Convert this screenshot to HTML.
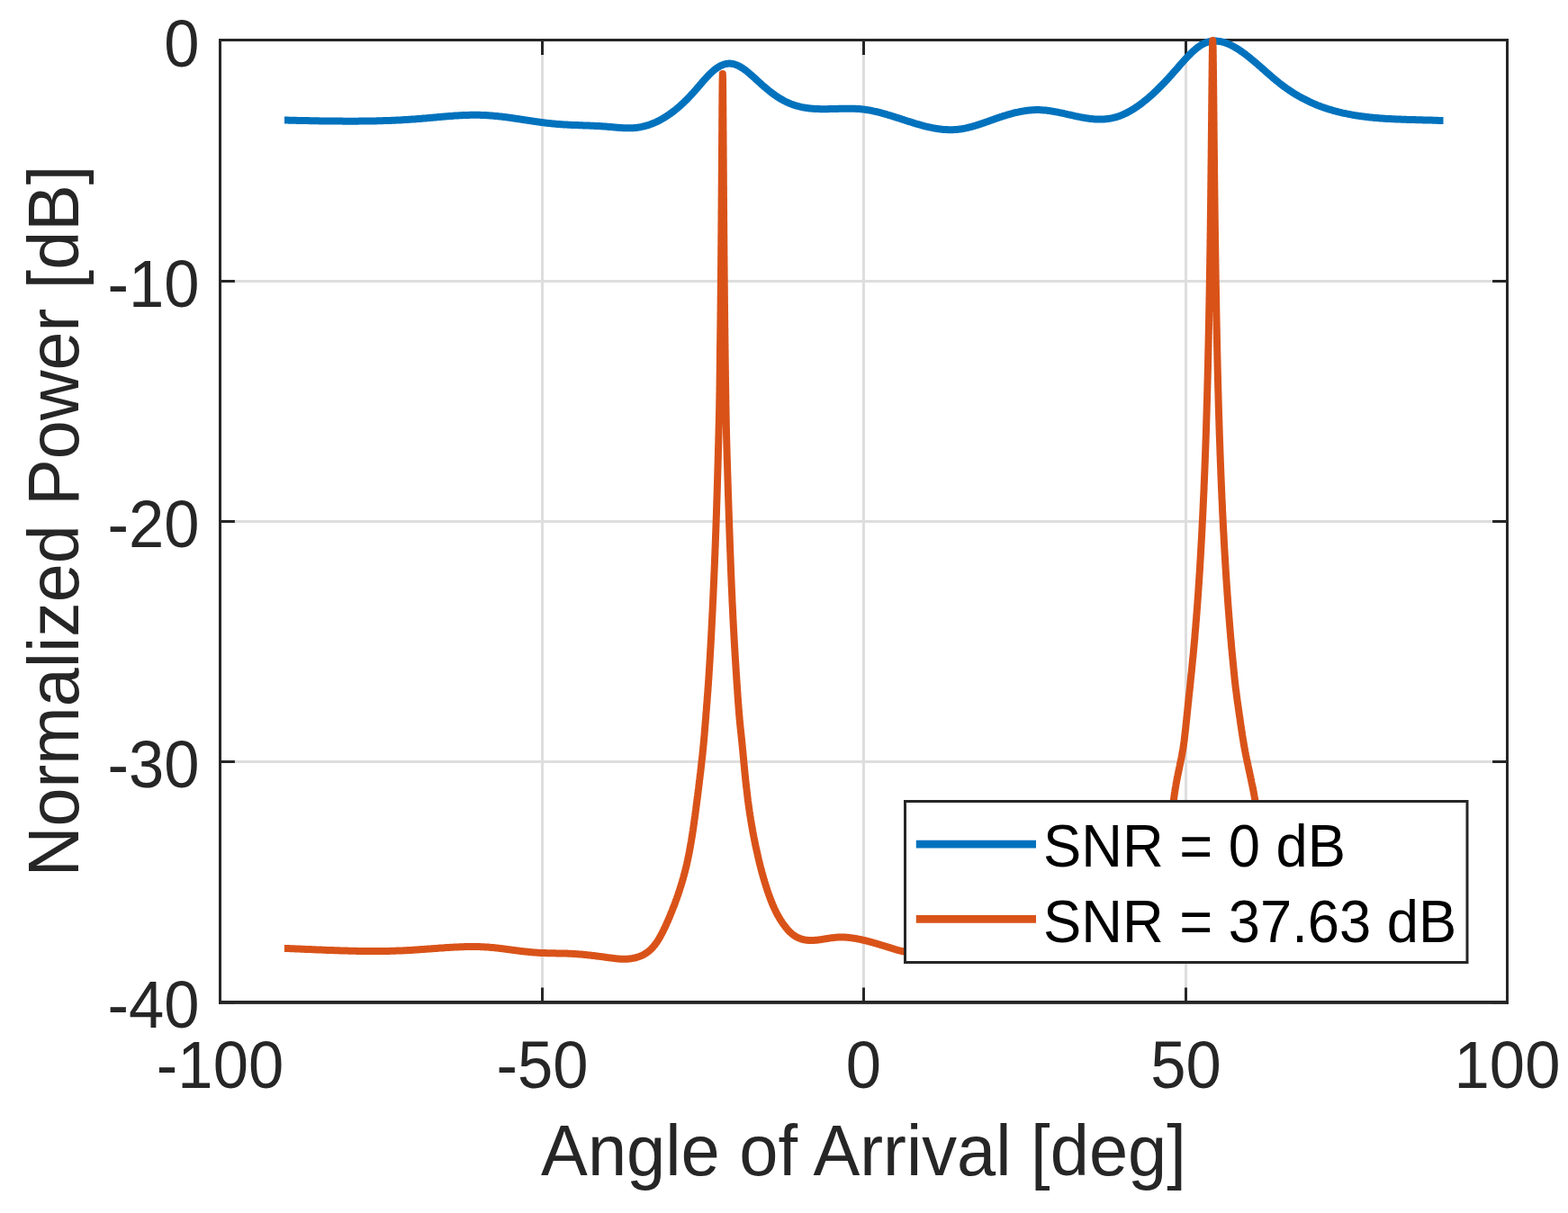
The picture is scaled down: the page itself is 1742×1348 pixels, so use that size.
<!DOCTYPE html>
<html><head><meta charset="utf-8"><title>Normalized Power vs Angle of Arrival</title>
<style>html,body{margin:0;padding:0;background:#fff;overflow:hidden}svg{display:block}</style>
</head><body>
<svg width="1742" height="1348" viewBox="0 0 1742 1348">
<rect width="1742" height="1348" fill="#ffffff"/>
<path d="M602.5 46 V1112 M959.5 46 V1112 M1317.5 46 V1112 M246 312.5 H1673 M246 579.5 H1673 M246 846.5 H1673" stroke="#dedede" stroke-width="3" fill="none"/>
<path d="M244.5 1112 V1097.5 M244.5 46 V60.9 M602.5 1112 V1097.5 M602.5 46 V60.9 M959.5 1112 V1097.5 M959.5 46 V60.9 M1317.5 1112 V1097.5 M1317.5 46 V60.9 M1674.5 1112 V1097.5 M1674.5 46 V60.9 M246 44.5 H260.9 M1673 44.5 H1658.1 M246 312.5 H260.9 M1673 312.5 H1658.1 M246 579.5 H260.9 M1673 579.5 H1658.1 M246 846.5 H260.9 M1673 846.5 H1658.1 M246 1113.9 H260.9 M1673 1113.9 H1658.1" stroke="#262626" stroke-width="3" fill="none"/>
<path d="M243 44.5 H1676 M243 1113.9 H1676" stroke="#262626" stroke-width="3" fill="none"/>
<path d="M243 1113.9 H1676" stroke="#262626" stroke-width="3.8" fill="none"/>
<path d="M244.5 43 V1115.8 M1674.5 43 V1115.8" stroke="#262626" stroke-width="3" fill="none"/>
<path d="M316.0 133.6 L317.0 133.6 L318.0 133.6 L319.0 133.6 L320.0 133.6 L321.0 133.7 L322.0 133.7 L323.0 133.7 L324.0 133.7 L325.0 133.8 L326.0 133.8 L327.0 133.8 L328.0 133.8 L329.0 133.8 L330.0 133.9 L331.0 133.9 L332.0 133.9 L333.0 133.9 L334.0 133.9 L335.0 134.0 L336.0 134.0 L337.0 134.0 L338.0 134.0 L339.0 134.1 L340.0 134.1 L341.0 134.1 L342.0 134.1 L343.0 134.1 L344.0 134.2 L345.0 134.2 L346.0 134.2 L347.0 134.2 L348.0 134.2 L349.0 134.2 L350.0 134.3 L351.0 134.3 L352.0 134.3 L353.0 134.3 L354.0 134.3 L355.0 134.4 L356.0 134.4 L357.0 134.4 L358.0 134.4 L359.0 134.4 L360.0 134.4 L361.0 134.4 L362.0 134.5 L363.0 134.5 L364.0 134.5 L365.0 134.5 L366.0 134.5 L367.0 134.5 L368.0 134.5 L369.0 134.6 L370.0 134.6 L371.0 134.6 L372.0 134.6 L373.0 134.6 L374.0 134.6 L375.0 134.6 L376.0 134.6 L377.0 134.6 L378.0 134.6 L379.0 134.6 L380.0 134.6 L381.0 134.7 L382.0 134.7 L383.0 134.7 L384.0 134.7 L385.0 134.7 L386.0 134.7 L387.0 134.7 L388.0 134.7 L389.0 134.7 L390.0 134.7 L391.0 134.7 L392.0 134.7 L393.0 134.7 L394.0 134.7 L395.0 134.7 L396.0 134.7 L397.0 134.7 L398.0 134.7 L399.0 134.6 L400.0 134.6 L401.0 134.6 L402.0 134.6 L403.0 134.6 L404.0 134.6 L405.0 134.6 L406.0 134.6 L407.0 134.6 L408.0 134.6 L409.0 134.5 L410.0 134.5 L411.0 134.5 L412.0 134.5 L413.0 134.5 L414.0 134.5 L415.0 134.4 L416.0 134.4 L417.0 134.4 L418.0 134.4 L419.0 134.3 L420.0 134.3 L421.0 134.3 L422.0 134.3 L423.0 134.2 L424.0 134.2 L425.0 134.2 L426.0 134.1 L427.0 134.1 L428.0 134.1 L429.0 134.1 L430.0 134.0 L431.0 134.0 L432.0 133.9 L433.0 133.9 L434.0 133.9 L435.0 133.8 L436.0 133.8 L437.0 133.7 L438.0 133.7 L439.0 133.7 L440.0 133.6 L441.0 133.6 L442.0 133.5 L443.0 133.5 L444.0 133.4 L445.0 133.4 L446.0 133.3 L447.0 133.3 L448.0 133.2 L449.0 133.1 L450.0 133.1 L451.0 133.0 L452.0 133.0 L453.0 132.9 L454.0 132.8 L455.0 132.8 L456.0 132.7 L457.0 132.6 L458.0 132.6 L459.0 132.5 L460.0 132.4 L461.0 132.4 L462.0 132.3 L463.0 132.2 L464.0 132.1 L465.0 132.0 L466.0 132.0 L467.0 131.9 L468.0 131.8 L469.0 131.7 L470.0 131.6 L471.0 131.5 L472.0 131.5 L473.0 131.4 L474.0 131.3 L475.0 131.2 L476.0 131.1 L477.0 131.0 L478.0 130.9 L479.0 130.8 L480.0 130.7 L481.0 130.7 L482.0 130.6 L483.0 130.5 L484.0 130.4 L485.0 130.3 L486.0 130.2 L487.0 130.1 L488.0 130.0 L489.0 129.9 L490.0 129.8 L491.0 129.7 L492.0 129.7 L493.0 129.6 L494.0 129.5 L495.0 129.4 L496.0 129.3 L497.0 129.2 L498.0 129.2 L499.0 129.1 L500.0 129.0 L501.0 128.9 L502.0 128.9 L503.0 128.8 L504.0 128.7 L505.0 128.6 L506.0 128.6 L507.0 128.5 L508.0 128.4 L509.0 128.4 L510.0 128.3 L511.0 128.3 L512.0 128.2 L513.0 128.2 L514.0 128.1 L515.0 128.1 L516.0 128.0 L517.0 128.0 L518.0 128.0 L519.0 127.9 L520.0 127.9 L521.0 127.9 L522.0 127.8 L523.0 127.8 L524.0 127.8 L525.0 127.8 L526.0 127.8 L527.0 127.8 L528.0 127.8 L529.0 127.8 L530.0 127.8 L531.0 127.8 L532.0 127.8 L533.0 127.8 L534.0 127.9 L535.0 127.9 L536.0 127.9 L537.0 128.0 L538.0 128.0 L539.0 128.0 L540.0 128.1 L541.0 128.2 L542.0 128.2 L543.0 128.3 L544.0 128.4 L545.0 128.4 L546.0 128.5 L547.0 128.6 L548.0 128.7 L549.0 128.8 L550.0 128.9 L551.0 128.9 L552.0 129.0 L553.0 129.2 L554.0 129.3 L555.0 129.4 L556.0 129.5 L557.0 129.6 L558.0 129.7 L559.0 129.8 L560.0 130.0 L561.0 130.1 L562.0 130.2 L563.0 130.3 L564.0 130.5 L565.0 130.6 L566.0 130.7 L567.0 130.9 L568.0 131.0 L569.0 131.2 L570.0 131.3 L571.0 131.5 L572.0 131.6 L573.0 131.8 L574.0 131.9 L575.0 132.0 L576.0 132.2 L577.0 132.3 L578.0 132.5 L579.0 132.7 L580.0 132.8 L581.0 133.0 L582.0 133.1 L583.0 133.3 L584.0 133.4 L585.0 133.6 L586.0 133.7 L587.0 133.9 L588.0 134.0 L589.0 134.2 L590.0 134.3 L591.0 134.5 L592.0 134.6 L593.0 134.8 L594.0 134.9 L595.0 135.1 L596.0 135.2 L597.0 135.3 L598.0 135.5 L599.0 135.6 L600.0 135.8 L601.0 135.9 L602.0 136.0 L603.0 136.2 L604.0 136.3 L605.0 136.4 L606.0 136.6 L607.0 136.7 L608.0 136.8 L609.0 136.9 L610.0 137.0 L611.0 137.1 L612.0 137.2 L613.0 137.3 L614.0 137.5 L615.0 137.5 L616.0 137.6 L617.0 137.7 L618.0 137.8 L619.0 137.9 L620.0 138.0 L621.0 138.1 L622.0 138.1 L623.0 138.2 L624.0 138.3 L625.0 138.3 L626.0 138.4 L627.0 138.5 L628.0 138.5 L629.0 138.6 L630.0 138.6 L631.0 138.7 L632.0 138.7 L633.0 138.8 L634.0 138.8 L635.0 138.9 L636.0 138.9 L637.0 139.0 L638.0 139.0 L639.0 139.0 L640.0 139.1 L641.0 139.1 L642.0 139.1 L643.0 139.2 L644.0 139.2 L645.0 139.3 L646.0 139.3 L647.0 139.3 L648.0 139.4 L649.0 139.4 L650.0 139.4 L651.0 139.5 L652.0 139.5 L653.0 139.5 L654.0 139.6 L655.0 139.6 L656.0 139.7 L657.0 139.7 L658.0 139.7 L659.0 139.8 L660.0 139.8 L661.0 139.9 L662.0 139.9 L663.0 140.0 L664.0 140.0 L665.0 140.1 L666.0 140.1 L667.0 140.2 L668.0 140.3 L669.0 140.3 L670.0 140.4 L671.0 140.5 L672.0 140.5 L673.0 140.6 L674.0 140.7 L675.0 140.8 L676.0 140.9 L677.0 141.0 L678.0 141.0 L679.0 141.1 L680.0 141.2 L681.0 141.3 L682.0 141.4 L683.0 141.5 L684.0 141.6 L685.0 141.7 L686.0 141.8 L687.0 141.8 L688.0 141.9 L689.0 142.0 L690.0 142.1 L691.0 142.1 L692.0 142.2 L693.0 142.2 L694.0 142.3 L695.0 142.3 L696.0 142.3 L697.0 142.3 L698.0 142.3 L699.0 142.3 L700.0 142.3 L701.0 142.3 L702.0 142.3 L703.0 142.2 L704.0 142.2 L705.0 142.1 L706.0 142.0 L707.0 141.9 L708.0 141.8 L709.0 141.6 L710.0 141.5 L711.0 141.3 L712.0 141.1 L713.0 140.9 L714.0 140.7 L715.0 140.5 L716.0 140.2 L717.0 140.0 L718.0 139.7 L719.0 139.4 L720.0 139.1 L721.0 138.8 L722.0 138.4 L723.0 138.0 L724.0 137.7 L725.0 137.3 L726.0 136.9 L727.0 136.5 L728.0 136.0 L729.0 135.6 L730.0 135.1 L731.0 134.6 L732.0 134.1 L733.0 133.6 L734.0 133.0 L735.0 132.5 L736.0 131.9 L737.0 131.3 L738.0 130.7 L739.0 130.1 L740.0 129.5 L741.0 128.8 L742.0 128.2 L743.0 127.5 L744.0 126.8 L745.0 126.1 L746.0 125.4 L747.0 124.6 L748.0 123.9 L749.0 123.1 L750.0 122.3 L751.0 121.5 L752.0 120.7 L753.0 119.8 L754.0 119.0 L755.0 118.1 L756.0 117.2 L757.0 116.3 L758.0 115.4 L759.0 114.5 L760.0 113.5 L761.0 112.5 L762.0 111.6 L763.0 110.6 L764.0 109.6 L765.0 108.5 L766.0 107.5 L767.0 106.4 L768.0 105.3 L769.0 104.2 L770.0 103.1 L771.0 102.0 L772.0 100.9 L773.0 99.7 L774.0 98.6 L775.0 97.4 L776.0 96.2 L777.0 95.1 L778.0 93.9 L779.0 92.7 L780.0 91.6 L781.0 90.4 L782.0 89.3 L783.0 88.2 L784.0 87.1 L785.0 86.0 L786.0 84.9 L787.0 83.9 L788.0 82.8 L789.0 81.8 L790.0 80.9 L791.0 80.0 L792.0 79.1 L793.0 78.2 L794.0 77.4 L795.0 76.6 L796.0 75.9 L797.0 75.2 L798.0 74.6 L799.0 74.0 L800.0 73.4 L801.0 72.9 L802.0 72.5 L803.0 72.1 L804.0 71.7 L805.0 71.4 L806.0 71.2 L807.0 70.9 L808.0 70.8 L809.0 70.7 L810.0 70.6 L811.0 70.6 L812.0 70.7 L813.0 70.8 L814.0 71.0 L815.0 71.2 L816.0 71.4 L817.0 71.8 L818.0 72.1 L819.0 72.5 L820.0 73.0 L821.0 73.4 L822.0 74.0 L823.0 74.6 L824.0 75.2 L825.0 75.8 L826.0 76.5 L827.0 77.2 L828.0 77.9 L829.0 78.7 L830.0 79.5 L831.0 80.3 L832.0 81.1 L833.0 82.0 L834.0 82.8 L835.0 83.7 L836.0 84.6 L837.0 85.5 L838.0 86.4 L839.0 87.3 L840.0 88.3 L841.0 89.2 L842.0 90.1 L843.0 91.0 L844.0 91.9 L845.0 92.8 L846.0 93.7 L847.0 94.6 L848.0 95.5 L849.0 96.3 L850.0 97.2 L851.0 98.0 L852.0 98.9 L853.0 99.7 L854.0 100.5 L855.0 101.3 L856.0 102.1 L857.0 102.9 L858.0 103.6 L859.0 104.4 L860.0 105.1 L861.0 105.8 L862.0 106.5 L863.0 107.2 L864.0 107.8 L865.0 108.5 L866.0 109.1 L867.0 109.7 L868.0 110.3 L869.0 110.9 L870.0 111.4 L871.0 112.0 L872.0 112.5 L873.0 113.0 L874.0 113.5 L875.0 113.9 L876.0 114.4 L877.0 114.8 L878.0 115.2 L879.0 115.6 L880.0 116.0 L881.0 116.3 L882.0 116.7 L883.0 117.0 L884.0 117.3 L885.0 117.6 L886.0 117.9 L887.0 118.1 L888.0 118.4 L889.0 118.6 L890.0 118.9 L891.0 119.1 L892.0 119.3 L893.0 119.5 L894.0 119.6 L895.0 119.8 L896.0 120.0 L897.0 120.1 L898.0 120.2 L899.0 120.4 L900.0 120.5 L901.0 120.6 L902.0 120.7 L903.0 120.7 L904.0 120.8 L905.0 120.9 L906.0 121.0 L907.0 121.0 L908.0 121.1 L909.0 121.1 L910.0 121.1 L911.0 121.2 L912.0 121.2 L913.0 121.2 L914.0 121.2 L915.0 121.2 L916.0 121.2 L917.0 121.2 L918.0 121.2 L919.0 121.2 L920.0 121.2 L921.0 121.1 L922.0 121.1 L923.0 121.1 L924.0 121.1 L925.0 121.0 L926.0 121.0 L927.0 121.0 L928.0 121.0 L929.0 120.9 L930.0 120.9 L931.0 120.9 L932.0 120.8 L933.0 120.8 L934.0 120.8 L935.0 120.8 L936.0 120.7 L937.0 120.7 L938.0 120.7 L939.0 120.7 L940.0 120.7 L941.0 120.7 L942.0 120.7 L943.0 120.7 L944.0 120.7 L945.0 120.7 L946.0 120.7 L947.0 120.7 L948.0 120.7 L949.0 120.8 L950.0 120.8 L951.0 120.9 L952.0 120.9 L953.0 121.0 L954.0 121.0 L955.0 121.1 L956.0 121.2 L957.0 121.3 L958.0 121.4 L959.0 121.5 L960.0 121.6 L961.0 121.8 L962.0 121.9 L963.0 122.1 L964.0 122.2 L965.0 122.4 L966.0 122.6 L967.0 122.7 L968.0 122.9 L969.0 123.1 L970.0 123.3 L971.0 123.6 L972.0 123.8 L973.0 124.0 L974.0 124.2 L975.0 124.5 L976.0 124.7 L977.0 125.0 L978.0 125.2 L979.0 125.5 L980.0 125.8 L981.0 126.0 L982.0 126.3 L983.0 126.6 L984.0 126.9 L985.0 127.2 L986.0 127.5 L987.0 127.8 L988.0 128.1 L989.0 128.4 L990.0 128.7 L991.0 129.0 L992.0 129.3 L993.0 129.6 L994.0 129.9 L995.0 130.3 L996.0 130.6 L997.0 130.9 L998.0 131.2 L999.0 131.5 L1000.0 131.9 L1001.0 132.2 L1002.0 132.5 L1003.0 132.8 L1004.0 133.2 L1005.0 133.5 L1006.0 133.8 L1007.0 134.1 L1008.0 134.5 L1009.0 134.8 L1010.0 135.1 L1011.0 135.4 L1012.0 135.7 L1013.0 136.0 L1014.0 136.3 L1015.0 136.7 L1016.0 137.0 L1017.0 137.3 L1018.0 137.6 L1019.0 137.8 L1020.0 138.1 L1021.0 138.4 L1022.0 138.7 L1023.0 139.0 L1024.0 139.3 L1025.0 139.5 L1026.0 139.8 L1027.0 140.1 L1028.0 140.3 L1029.0 140.6 L1030.0 140.8 L1031.0 141.0 L1032.0 141.3 L1033.0 141.5 L1034.0 141.7 L1035.0 141.9 L1036.0 142.1 L1037.0 142.3 L1038.0 142.5 L1039.0 142.7 L1040.0 142.8 L1041.0 143.0 L1042.0 143.1 L1043.0 143.3 L1044.0 143.4 L1045.0 143.5 L1046.0 143.7 L1047.0 143.8 L1048.0 143.9 L1049.0 143.9 L1050.0 144.0 L1051.0 144.1 L1052.0 144.1 L1053.0 144.2 L1054.0 144.2 L1055.0 144.2 L1056.0 144.2 L1057.0 144.2 L1058.0 144.2 L1059.0 144.2 L1060.0 144.1 L1061.0 144.1 L1062.0 144.0 L1063.0 143.9 L1064.0 143.8 L1065.0 143.7 L1066.0 143.6 L1067.0 143.5 L1068.0 143.3 L1069.0 143.2 L1070.0 143.0 L1071.0 142.8 L1072.0 142.6 L1073.0 142.4 L1074.0 142.2 L1075.0 142.0 L1076.0 141.7 L1077.0 141.5 L1078.0 141.2 L1079.0 141.0 L1080.0 140.7 L1081.0 140.4 L1082.0 140.1 L1083.0 139.8 L1084.0 139.5 L1085.0 139.2 L1086.0 138.9 L1087.0 138.6 L1088.0 138.2 L1089.0 137.9 L1090.0 137.6 L1091.0 137.2 L1092.0 136.9 L1093.0 136.6 L1094.0 136.2 L1095.0 135.9 L1096.0 135.5 L1097.0 135.2 L1098.0 134.8 L1099.0 134.4 L1100.0 134.1 L1101.0 133.7 L1102.0 133.4 L1103.0 133.0 L1104.0 132.7 L1105.0 132.3 L1106.0 131.9 L1107.0 131.6 L1108.0 131.2 L1109.0 130.9 L1110.0 130.6 L1111.0 130.2 L1112.0 129.9 L1113.0 129.6 L1114.0 129.2 L1115.0 128.9 L1116.0 128.6 L1117.0 128.3 L1118.0 128.0 L1119.0 127.7 L1120.0 127.4 L1121.0 127.1 L1122.0 126.8 L1123.0 126.5 L1124.0 126.3 L1125.0 126.0 L1126.0 125.7 L1127.0 125.5 L1128.0 125.2 L1129.0 125.0 L1130.0 124.8 L1131.0 124.6 L1132.0 124.3 L1133.0 124.1 L1134.0 123.9 L1135.0 123.8 L1136.0 123.6 L1137.0 123.4 L1138.0 123.3 L1139.0 123.1 L1140.0 123.0 L1141.0 122.8 L1142.0 122.7 L1143.0 122.6 L1144.0 122.5 L1145.0 122.4 L1146.0 122.3 L1147.0 122.3 L1148.0 122.2 L1149.0 122.2 L1150.0 122.1 L1151.0 122.1 L1152.0 122.1 L1153.0 122.1 L1154.0 122.1 L1155.0 122.1 L1156.0 122.2 L1157.0 122.2 L1158.0 122.3 L1159.0 122.4 L1160.0 122.4 L1161.0 122.5 L1162.0 122.6 L1163.0 122.7 L1164.0 122.9 L1165.0 123.0 L1166.0 123.1 L1167.0 123.3 L1168.0 123.4 L1169.0 123.6 L1170.0 123.8 L1171.0 123.9 L1172.0 124.1 L1173.0 124.3 L1174.0 124.5 L1175.0 124.7 L1176.0 124.9 L1177.0 125.1 L1178.0 125.3 L1179.0 125.5 L1180.0 125.7 L1181.0 125.9 L1182.0 126.2 L1183.0 126.4 L1184.0 126.6 L1185.0 126.8 L1186.0 127.1 L1187.0 127.3 L1188.0 127.5 L1189.0 127.7 L1190.0 128.0 L1191.0 128.2 L1192.0 128.4 L1193.0 128.6 L1194.0 128.9 L1195.0 129.1 L1196.0 129.3 L1197.0 129.5 L1198.0 129.7 L1199.0 129.9 L1200.0 130.1 L1201.0 130.3 L1202.0 130.5 L1203.0 130.7 L1204.0 130.8 L1205.0 131.0 L1206.0 131.2 L1207.0 131.3 L1208.0 131.5 L1209.0 131.6 L1210.0 131.8 L1211.0 131.9 L1212.0 132.0 L1213.0 132.1 L1214.0 132.2 L1215.0 132.3 L1216.0 132.4 L1217.0 132.4 L1218.0 132.5 L1219.0 132.5 L1220.0 132.6 L1221.0 132.6 L1222.0 132.6 L1223.0 132.6 L1224.0 132.6 L1225.0 132.5 L1226.0 132.5 L1227.0 132.4 L1228.0 132.3 L1229.0 132.2 L1230.0 132.1 L1231.0 132.0 L1232.0 131.9 L1233.0 131.7 L1234.0 131.5 L1235.0 131.3 L1236.0 131.1 L1237.0 130.9 L1238.0 130.7 L1239.0 130.4 L1240.0 130.1 L1241.0 129.8 L1242.0 129.5 L1243.0 129.1 L1244.0 128.8 L1245.0 128.4 L1246.0 128.0 L1247.0 127.6 L1248.0 127.2 L1249.0 126.7 L1250.0 126.2 L1251.0 125.8 L1252.0 125.3 L1253.0 124.7 L1254.0 124.2 L1255.0 123.6 L1256.0 123.1 L1257.0 122.5 L1258.0 121.9 L1259.0 121.3 L1260.0 120.7 L1261.0 120.0 L1262.0 119.3 L1263.0 118.7 L1264.0 118.0 L1265.0 117.3 L1266.0 116.6 L1267.0 115.8 L1268.0 115.1 L1269.0 114.3 L1270.0 113.5 L1271.0 112.7 L1272.0 111.9 L1273.0 111.1 L1274.0 110.3 L1275.0 109.5 L1276.0 108.6 L1277.0 107.7 L1278.0 106.9 L1279.0 106.0 L1280.0 105.1 L1281.0 104.1 L1282.0 103.2 L1283.0 102.3 L1284.0 101.3 L1285.0 100.4 L1286.0 99.4 L1287.0 98.4 L1288.0 97.4 L1289.0 96.4 L1290.0 95.4 L1291.0 94.4 L1292.0 93.4 L1293.0 92.3 L1294.0 91.3 L1295.0 90.2 L1296.0 89.1 L1297.0 88.1 L1298.0 87.0 L1299.0 85.9 L1300.0 84.8 L1301.0 83.7 L1302.0 82.5 L1303.0 81.4 L1304.0 80.3 L1305.0 79.1 L1306.0 78.0 L1307.0 76.9 L1308.0 75.7 L1309.0 74.6 L1310.0 73.4 L1311.0 72.3 L1312.0 71.1 L1313.0 70.0 L1314.0 68.9 L1315.0 67.7 L1316.0 66.6 L1317.0 65.5 L1318.0 64.5 L1319.0 63.4 L1320.0 62.3 L1321.0 61.3 L1322.0 60.3 L1323.0 59.3 L1324.0 58.4 L1325.0 57.4 L1326.0 56.5 L1327.0 55.6 L1328.0 54.8 L1329.0 53.9 L1330.0 53.1 L1331.0 52.4 L1332.0 51.7 L1333.0 51.0 L1334.0 50.3 L1335.0 49.7 L1336.0 49.2 L1337.0 48.7 L1338.0 48.2 L1339.0 47.7 L1340.0 47.4 L1341.0 47.0 L1342.0 46.7 L1343.0 46.4 L1344.0 46.2 L1345.0 46.0 L1346.0 45.8 L1347.0 45.7 L1348.0 45.6 L1349.0 45.6 L1350.0 45.6 L1351.0 45.6 L1352.0 45.7 L1353.0 45.8 L1354.0 45.9 L1355.0 46.0 L1356.0 46.2 L1357.0 46.4 L1358.0 46.6 L1359.0 46.9 L1360.0 47.2 L1361.0 47.5 L1362.0 47.9 L1363.0 48.2 L1364.0 48.6 L1365.0 49.0 L1366.0 49.5 L1367.0 49.9 L1368.0 50.4 L1369.0 50.9 L1370.0 51.5 L1371.0 52.0 L1372.0 52.6 L1373.0 53.2 L1374.0 53.8 L1375.0 54.4 L1376.0 55.0 L1377.0 55.7 L1378.0 56.4 L1379.0 57.1 L1380.0 57.8 L1381.0 58.5 L1382.0 59.2 L1383.0 59.9 L1384.0 60.7 L1385.0 61.5 L1386.0 62.3 L1387.0 63.0 L1388.0 63.8 L1389.0 64.7 L1390.0 65.5 L1391.0 66.3 L1392.0 67.1 L1393.0 68.0 L1394.0 68.8 L1395.0 69.7 L1396.0 70.5 L1397.0 71.4 L1398.0 72.3 L1399.0 73.2 L1400.0 74.0 L1401.0 74.9 L1402.0 75.8 L1403.0 76.7 L1404.0 77.5 L1405.0 78.4 L1406.0 79.3 L1407.0 80.2 L1408.0 81.1 L1409.0 81.9 L1410.0 82.8 L1411.0 83.7 L1412.0 84.5 L1413.0 85.4 L1414.0 86.3 L1415.0 87.1 L1416.0 87.9 L1417.0 88.8 L1418.0 89.6 L1419.0 90.4 L1420.0 91.2 L1421.0 92.0 L1422.0 92.8 L1423.0 93.6 L1424.0 94.4 L1425.0 95.1 L1426.0 95.9 L1427.0 96.6 L1428.0 97.3 L1429.0 98.0 L1430.0 98.7 L1431.0 99.4 L1432.0 100.1 L1433.0 100.8 L1434.0 101.4 L1435.0 102.1 L1436.0 102.7 L1437.0 103.4 L1438.0 104.0 L1439.0 104.6 L1440.0 105.2 L1441.0 105.8 L1442.0 106.4 L1443.0 107.0 L1444.0 107.5 L1445.0 108.1 L1446.0 108.6 L1447.0 109.2 L1448.0 109.7 L1449.0 110.2 L1450.0 110.7 L1451.0 111.2 L1452.0 111.7 L1453.0 112.2 L1454.0 112.7 L1455.0 113.2 L1456.0 113.6 L1457.0 114.1 L1458.0 114.5 L1459.0 115.0 L1460.0 115.4 L1461.0 115.8 L1462.0 116.3 L1463.0 116.7 L1464.0 117.1 L1465.0 117.5 L1466.0 117.8 L1467.0 118.2 L1468.0 118.6 L1469.0 119.0 L1470.0 119.3 L1471.0 119.7 L1472.0 120.0 L1473.0 120.4 L1474.0 120.7 L1475.0 121.0 L1476.0 121.3 L1477.0 121.6 L1478.0 121.9 L1479.0 122.2 L1480.0 122.5 L1481.0 122.8 L1482.0 123.1 L1483.0 123.4 L1484.0 123.6 L1485.0 123.9 L1486.0 124.2 L1487.0 124.4 L1488.0 124.7 L1489.0 124.9 L1490.0 125.1 L1491.0 125.4 L1492.0 125.6 L1493.0 125.8 L1494.0 126.0 L1495.0 126.2 L1496.0 126.4 L1497.0 126.6 L1498.0 126.8 L1499.0 127.0 L1500.0 127.2 L1501.0 127.4 L1502.0 127.6 L1503.0 127.8 L1504.0 127.9 L1505.0 128.1 L1506.0 128.3 L1507.0 128.4 L1508.0 128.6 L1509.0 128.7 L1510.0 128.9 L1511.0 129.0 L1512.0 129.1 L1513.0 129.3 L1514.0 129.4 L1515.0 129.5 L1516.0 129.7 L1517.0 129.8 L1518.0 129.9 L1519.0 130.0 L1520.0 130.1 L1521.0 130.3 L1522.0 130.4 L1523.0 130.5 L1524.0 130.6 L1525.0 130.7 L1526.0 130.8 L1527.0 130.9 L1528.0 130.9 L1529.0 131.0 L1530.0 131.1 L1531.0 131.2 L1532.0 131.3 L1533.0 131.4 L1534.0 131.4 L1535.0 131.5 L1536.0 131.6 L1537.0 131.7 L1538.0 131.7 L1539.0 131.8 L1540.0 131.9 L1541.0 131.9 L1542.0 132.0 L1543.0 132.0 L1544.0 132.1 L1545.0 132.1 L1546.0 132.2 L1547.0 132.2 L1548.0 132.3 L1549.0 132.3 L1550.0 132.4 L1551.0 132.4 L1552.0 132.5 L1553.0 132.5 L1554.0 132.6 L1555.0 132.6 L1556.0 132.6 L1557.0 132.7 L1558.0 132.7 L1559.0 132.7 L1560.0 132.8 L1561.0 132.8 L1562.0 132.8 L1563.0 132.9 L1564.0 132.9 L1565.0 132.9 L1566.0 133.0 L1567.0 133.0 L1568.0 133.0 L1569.0 133.1 L1570.0 133.1 L1571.0 133.1 L1572.0 133.1 L1573.0 133.2 L1574.0 133.2 L1575.0 133.2 L1576.0 133.2 L1577.0 133.3 L1578.0 133.3 L1579.0 133.3 L1580.0 133.3 L1581.0 133.4 L1582.0 133.4 L1583.0 133.4 L1584.0 133.4 L1585.0 133.5 L1586.0 133.5 L1587.0 133.5 L1588.0 133.6 L1589.0 133.6 L1590.0 133.6 L1591.0 133.6 L1592.0 133.7 L1593.0 133.7 L1594.0 133.7 L1595.0 133.8 L1596.0 133.8 L1597.0 133.8 L1598.0 133.9 L1599.0 133.9 L1600.0 134.0 L1601.0 134.0 L1602.0 134.0 L1603.0 134.1 L1603.5 134.1" stroke="#0072bd" stroke-width="8" fill="none" stroke-linejoin="round"/>
<path d="M315.9 1053.9 L317.0 1053.9 L318.2 1054.0 L319.3 1054.0 L320.4 1054.1 L321.5 1054.1 L322.6 1054.2 L323.7 1054.2 L324.8 1054.2 L325.9 1054.3 L327.0 1054.3 L328.1 1054.4 L329.2 1054.4 L330.3 1054.5 L331.4 1054.5 L332.5 1054.6 L333.6 1054.6 L334.6 1054.7 L335.7 1054.7 L336.8 1054.8 L337.9 1054.8 L339.0 1054.9 L340.1 1054.9 L341.2 1055.0 L342.3 1055.0 L343.4 1055.1 L344.4 1055.1 L345.5 1055.1 L346.6 1055.2 L347.7 1055.2 L348.8 1055.3 L349.9 1055.3 L350.9 1055.4 L352.0 1055.4 L353.1 1055.5 L354.2 1055.5 L355.3 1055.6 L356.3 1055.6 L357.4 1055.6 L358.5 1055.7 L359.6 1055.7 L360.6 1055.8 L361.7 1055.8 L362.8 1055.9 L363.9 1055.9 L364.9 1055.9 L366.0 1056.0 L367.1 1056.0 L368.1 1056.1 L369.2 1056.1 L370.3 1056.1 L371.3 1056.2 L372.4 1056.2 L373.5 1056.2 L374.5 1056.3 L375.6 1056.3 L376.7 1056.3 L377.7 1056.4 L378.8 1056.4 L379.9 1056.4 L380.9 1056.5 L382.0 1056.5 L383.0 1056.5 L384.1 1056.6 L385.2 1056.6 L386.2 1056.6 L387.3 1056.7 L388.3 1056.7 L389.4 1056.7 L390.4 1056.7 L391.5 1056.8 L392.5 1056.8 L393.6 1056.8 L394.7 1056.8 L395.7 1056.8 L396.8 1056.9 L397.8 1056.9 L398.9 1056.9 L399.9 1056.9 L401.0 1056.9 L402.0 1056.9 L403.1 1057.0 L404.1 1057.0 L405.1 1057.0 L406.2 1057.0 L407.2 1057.0 L408.3 1057.0 L409.3 1057.0 L410.4 1057.0 L411.4 1057.0 L412.5 1057.0 L413.5 1057.0 L414.5 1057.0 L415.6 1057.0 L416.6 1057.0 L417.7 1057.0 L418.7 1057.0 L419.8 1057.0 L420.8 1057.0 L421.8 1057.0 L422.9 1057.0 L423.9 1057.0 L424.9 1057.0 L426.0 1057.0 L427.0 1057.0 L428.0 1056.9 L429.1 1056.9 L430.1 1056.9 L431.2 1056.9 L432.2 1056.9 L433.2 1056.8 L434.3 1056.8 L435.3 1056.8 L436.3 1056.8 L437.4 1056.7 L438.4 1056.7 L439.4 1056.7 L440.4 1056.6 L441.5 1056.6 L442.5 1056.6 L443.5 1056.5 L444.6 1056.5 L445.6 1056.4 L446.6 1056.4 L447.6 1056.4 L448.7 1056.3 L449.7 1056.3 L450.7 1056.2 L451.7 1056.2 L452.8 1056.1 L453.8 1056.0 L454.8 1056.0 L455.9 1055.9 L456.9 1055.9 L457.9 1055.8 L458.9 1055.7 L459.9 1055.7 L461.0 1055.6 L462.0 1055.5 L463.0 1055.5 L464.0 1055.4 L465.1 1055.3 L466.1 1055.3 L467.1 1055.2 L468.1 1055.1 L469.1 1055.1 L470.1 1055.0 L471.2 1054.9 L472.2 1054.8 L473.2 1054.8 L474.2 1054.7 L475.2 1054.6 L476.2 1054.5 L477.3 1054.5 L478.3 1054.4 L479.3 1054.3 L480.3 1054.2 L481.3 1054.2 L482.3 1054.1 L483.3 1054.0 L484.3 1053.9 L485.3 1053.9 L486.4 1053.8 L487.4 1053.7 L488.4 1053.6 L489.4 1053.6 L490.4 1053.5 L491.4 1053.4 L492.4 1053.4 L493.4 1053.3 L494.4 1053.2 L495.4 1053.1 L496.4 1053.1 L497.4 1053.0 L498.4 1053.0 L499.4 1052.9 L500.4 1052.8 L501.4 1052.8 L502.4 1052.7 L503.4 1052.7 L504.4 1052.6 L505.4 1052.6 L506.4 1052.5 L507.4 1052.5 L508.3 1052.4 L509.3 1052.4 L510.3 1052.3 L511.3 1052.3 L512.3 1052.3 L513.3 1052.2 L514.3 1052.2 L515.3 1052.2 L516.2 1052.1 L517.2 1052.1 L518.2 1052.1 L519.2 1052.1 L520.2 1052.1 L521.1 1052.0 L522.1 1052.0 L523.1 1052.0 L524.1 1052.0 L525.1 1052.0 L526.0 1052.0 L527.0 1052.0 L528.0 1052.0 L528.9 1052.1 L529.9 1052.1 L530.9 1052.1 L531.8 1052.1 L532.8 1052.1 L533.8 1052.2 L534.7 1052.2 L535.7 1052.2 L536.7 1052.3 L537.6 1052.3 L538.6 1052.4 L539.5 1052.4 L540.5 1052.5 L541.5 1052.6 L542.4 1052.6 L543.4 1052.7 L544.3 1052.8 L545.3 1052.9 L546.2 1053.0 L547.2 1053.0 L548.1 1053.1 L549.1 1053.2 L550.0 1053.3 L551.0 1053.4 L551.9 1053.5 L552.9 1053.6 L553.8 1053.7 L554.8 1053.9 L555.7 1054.0 L556.7 1054.1 L557.6 1054.2 L558.6 1054.3 L559.5 1054.4 L560.4 1054.6 L561.4 1054.7 L562.4 1054.8 L563.3 1054.9 L564.3 1055.1 L565.2 1055.2 L566.2 1055.3 L567.1 1055.4 L568.1 1055.6 L569.0 1055.7 L570.0 1055.8 L571.0 1056.0 L571.9 1056.1 L572.9 1056.2 L573.9 1056.3 L574.8 1056.5 L575.8 1056.6 L576.8 1056.7 L577.8 1056.8 L578.7 1057.0 L579.7 1057.1 L580.7 1057.2 L581.7 1057.3 L582.7 1057.4 L583.7 1057.5 L584.7 1057.6 L585.7 1057.7 L586.7 1057.8 L587.7 1057.9 L588.7 1058.0 L589.7 1058.1 L590.7 1058.2 L591.7 1058.3 L592.7 1058.4 L593.7 1058.5 L594.8 1058.6 L595.8 1058.6 L596.8 1058.7 L597.9 1058.8 L598.9 1058.8 L600.0 1058.9 L601.0 1058.9 L602.1 1059.0 L603.1 1059.0 L604.2 1059.1 L605.3 1059.1 L606.3 1059.1 L607.4 1059.2 L608.5 1059.2 L609.6 1059.2 L610.6 1059.2 L611.7 1059.3 L612.8 1059.3 L613.9 1059.3 L614.9 1059.3 L616.0 1059.3 L617.1 1059.3 L618.2 1059.4 L619.3 1059.4 L620.3 1059.4 L621.4 1059.4 L622.5 1059.4 L623.6 1059.4 L624.6 1059.5 L625.7 1059.5 L626.8 1059.5 L627.8 1059.5 L628.9 1059.6 L629.9 1059.6 L631.0 1059.7 L632.0 1059.7 L633.1 1059.7 L634.1 1059.8 L635.1 1059.8 L636.2 1059.9 L637.2 1060.0 L638.2 1060.0 L639.2 1060.1 L640.2 1060.2 L641.2 1060.2 L642.2 1060.3 L643.2 1060.4 L644.2 1060.5 L645.2 1060.5 L646.2 1060.6 L647.1 1060.7 L648.1 1060.8 L649.1 1060.9 L650.0 1061.0 L651.0 1061.1 L651.9 1061.2 L652.8 1061.3 L653.8 1061.4 L654.7 1061.5 L655.6 1061.6 L656.5 1061.7 L657.4 1061.8 L658.3 1061.9 L659.2 1062.0 L660.1 1062.1 L661.0 1062.2 L661.8 1062.3 L662.7 1062.5 L663.6 1062.6 L664.4 1062.7 L665.3 1062.8 L666.1 1062.9 L666.9 1063.0 L667.8 1063.1 L668.6 1063.2 L669.4 1063.3 L670.2 1063.4 L671.0 1063.5 L671.8 1063.7 L672.5 1063.8 L673.3 1063.9 L674.1 1064.0 L674.8 1064.1 L675.6 1064.2 L676.3 1064.3 L677.0 1064.4 L677.8 1064.5 L678.5 1064.6 L679.2 1064.6 L679.9 1064.7 L680.6 1064.8 L681.2 1064.9 L681.9 1065.0 L682.6 1065.1 L683.2 1065.1 L683.9 1065.2 L684.5 1065.3 L685.2 1065.4 L685.8 1065.4 L686.4 1065.5 L687.1 1065.5 L687.7 1065.6 L688.3 1065.6 L688.9 1065.7 L689.5 1065.7 L690.1 1065.7 L690.7 1065.8 L691.4 1065.8 L692.0 1065.8 L692.6 1065.8 L693.2 1065.8 L693.8 1065.8 L694.4 1065.8 L695.0 1065.8 L695.6 1065.8 L696.1 1065.7 L696.7 1065.7 L697.3 1065.7 L697.9 1065.6 L698.5 1065.6 L699.1 1065.5 L699.7 1065.4 L700.3 1065.4 L700.8 1065.3 L701.4 1065.2 L702.0 1065.1 L702.6 1065.0 L703.1 1064.9 L703.7 1064.8 L704.3 1064.7 L704.8 1064.6 L705.4 1064.5 L705.9 1064.3 L706.5 1064.2 L707.0 1064.0 L707.6 1063.9 L708.1 1063.7 L708.7 1063.5 L709.2 1063.4 L709.7 1063.2 L710.3 1063.0 L710.8 1062.8 L711.3 1062.6 L711.8 1062.4 L712.4 1062.1 L712.9 1061.9 L713.4 1061.7 L713.9 1061.4 L714.4 1061.2 L714.9 1060.9 L715.4 1060.7 L715.9 1060.4 L716.3 1060.1 L716.8 1059.8 L717.3 1059.5 L717.8 1059.2 L718.2 1058.9 L718.7 1058.6 L719.1 1058.3 L719.6 1058.0 L720.0 1057.6 L720.5 1057.3 L720.9 1056.9 L721.4 1056.5 L721.8 1056.2 L722.2 1055.8 L722.6 1055.4 L723.0 1055.0 L723.5 1054.6 L723.9 1054.2 L724.3 1053.8 L724.7 1053.4 L725.1 1052.9 L725.4 1052.5 L725.8 1052.0 L726.2 1051.6 L726.6 1051.1 L727.0 1050.7 L727.4 1050.2 L727.7 1049.7 L728.1 1049.2 L728.5 1048.7 L728.8 1048.2 L729.2 1047.7 L729.5 1047.2 L729.9 1046.7 L730.2 1046.2 L730.6 1045.6 L730.9 1045.1 L731.3 1044.6 L731.6 1044.0 L731.9 1043.5 L732.3 1042.9 L732.6 1042.3 L732.9 1041.8 L733.3 1041.2 L733.6 1040.6 L733.9 1040.0 L734.2 1039.4 L734.6 1038.8 L734.9 1038.2 L735.2 1037.6 L735.5 1037.0 L735.8 1036.4 L736.2 1035.8 L736.5 1035.1 L736.8 1034.5 L737.1 1033.9 L737.4 1033.2 L737.7 1032.6 L738.0 1031.9 L738.4 1031.3 L738.7 1030.6 L739.0 1030.0 L739.3 1029.3 L739.6 1028.6 L739.9 1028.0 L740.2 1027.3 L740.5 1026.6 L740.8 1025.9 L741.1 1025.2 L741.4 1024.5 L741.8 1023.8 L742.1 1023.1 L742.4 1022.4 L742.7 1021.7 L743.0 1021.0 L743.3 1020.3 L743.6 1019.6 L743.9 1018.8 L744.2 1018.1 L744.5 1017.4 L744.8 1016.7 L745.1 1015.9 L745.4 1015.2 L745.7 1014.4 L746.0 1013.7 L746.3 1013.0 L746.6 1012.2 L746.9 1011.5 L747.2 1010.7 L747.5 1009.9 L747.8 1009.2 L748.1 1008.4 L748.4 1007.6 L748.7 1006.9 L749.0 1006.1 L749.3 1005.3 L749.6 1004.6 L749.9 1003.8 L750.2 1003.0 L750.4 1002.2 L750.7 1001.4 L751.0 1000.7 L751.3 999.9 L751.6 999.1 L751.9 998.3 L752.1 997.5 L752.4 996.7 L752.7 995.9 L753.0 995.1 L753.3 994.3 L753.5 993.5 L753.8 992.7 L754.1 991.9 L754.3 991.1 L754.6 990.3 L754.9 989.5 L755.1 988.6 L755.4 987.8 L755.6 987.0 L755.9 986.2 L756.2 985.4 L756.4 984.6 L756.7 983.8 L756.9 982.9 L757.2 982.1 L757.4 981.3 L757.7 980.5 L757.9 979.7 L758.1 978.8 L758.4 978.0 L758.6 977.2 L758.9 976.4 L759.1 975.6 L759.3 974.7 L759.5 973.9 L759.8 973.1 L760.0 972.3 L760.2 971.4 L760.4 970.6 L760.6 969.8 L760.9 969.0 L761.1 968.1 L761.3 967.3 L761.5 966.5 L761.7 965.7 L761.9 964.8 L762.1 964.0 L762.3 963.2 L762.5 962.3 L762.7 961.5 L762.9 960.7 L763.1 959.9 L763.3 959.0 L763.4 958.2 L763.6 957.4 L763.8 956.6 L764.0 955.7 L764.2 954.9 L764.3 954.1 L764.5 953.2 L764.7 952.4 L764.9 951.6 L765.0 950.7 L765.2 949.9 L765.4 949.0 L765.5 948.2 L765.7 947.4 L765.9 946.5 L766.0 945.7 L766.2 944.8 L766.3 944.0 L766.5 943.2 L766.6 942.3 L766.8 941.5 L766.9 940.6 L767.1 939.8 L767.2 938.9 L767.4 938.1 L767.5 937.2 L767.7 936.4 L767.8 935.5 L768.0 934.6 L768.1 933.8 L768.3 932.9 L768.4 932.1 L768.5 931.2 L768.7 930.3 L768.8 929.5 L769.0 928.6 L769.1 927.7 L769.2 926.8 L769.4 926.0 L769.5 925.1 L769.6 924.2 L769.8 923.3 L769.9 922.4 L770.0 921.5 L770.2 920.7 L770.3 919.8 L770.4 918.9 L770.5 918.0 L770.7 917.1 L770.8 916.2 L770.9 915.3 L771.1 914.4 L771.2 913.5 L771.3 912.5 L771.4 911.6 L771.6 910.7 L771.7 909.8 L771.8 908.9 L771.9 908.0 L772.1 907.0 L772.2 906.1 L772.3 905.2 L772.4 904.2 L772.6 903.3 L772.7 902.3 L772.8 901.4 L772.9 900.5 L773.1 899.5 L773.2 898.6 L773.3 897.6 L773.4 896.6 L773.6 895.7 L773.7 894.7 L773.8 893.8 L773.9 892.8 L774.1 891.8 L774.2 890.8 L774.3 889.9 L774.4 888.9 L774.6 887.9 L774.7 887.0 L774.8 886.0 L774.9 885.0 L775.1 884.0 L775.2 883.0 L775.3 882.1 L775.4 881.1 L775.6 880.1 L775.7 879.1 L775.8 878.1 L775.9 877.2 L776.1 876.2 L776.2 875.2 L776.3 874.2 L776.4 873.3 L776.5 872.3 L776.7 871.3 L776.8 870.3 L776.9 869.4 L777.0 868.4 L777.1 867.4 L777.2 866.5 L777.4 865.5 L777.5 864.5 L777.6 863.6 L777.7 862.6 L777.8 861.7 L777.9 860.7 L778.0 859.8 L778.2 858.8 L778.3 857.9 L778.4 856.9 L778.5 856.0 L778.6 855.1 L778.7 854.1 L778.8 853.2 L778.9 852.3 L779.0 851.4 L779.1 850.5 L779.2 849.6 L779.3 848.7 L779.4 847.8 L779.5 846.9 L779.6 846.0 L779.7 845.1 L779.8 844.2 L779.9 843.4 L780.0 842.5 L780.1 841.6 L780.2 840.8 L780.3 839.9 L780.4 839.0 L780.5 838.2 L780.6 837.3 L780.7 836.5 L780.7 835.7 L780.8 834.8 L780.9 834.0 L781.0 833.1 L781.1 832.3 L781.2 831.5 L781.2 830.6 L781.3 829.8 L781.4 829.0 L781.5 828.1 L781.6 827.3 L781.6 826.5 L781.7 825.6 L781.8 824.8 L781.9 824.0 L782.0 823.1 L782.0 822.3 L782.1 821.4 L782.2 820.6 L782.3 819.8 L782.3 818.9 L782.4 818.0 L782.5 817.2 L782.6 816.3 L782.6 815.5 L782.7 814.6 L782.8 813.7 L782.8 812.8 L782.9 811.9 L783.0 811.0 L783.1 810.1 L783.1 809.2 L783.2 808.3 L783.3 807.4 L783.4 806.4 L783.4 805.5 L783.5 804.5 L783.6 803.5 L783.7 802.6 L783.8 801.6 L783.8 800.6 L783.9 799.6 L784.0 798.5 L784.1 797.5 L784.2 796.4 L784.2 795.4 L784.3 794.3 L784.4 793.2 L784.5 792.1 L784.6 791.0 L784.7 789.9 L784.8 788.8 L784.9 787.7 L784.9 786.5 L785.0 785.4 L785.1 784.3 L785.2 783.1 L785.3 781.9 L785.4 780.8 L785.5 779.6 L785.6 778.4 L785.7 777.3 L785.7 776.1 L785.8 774.9 L785.9 773.7 L786.0 772.5 L786.1 771.3 L786.2 770.1 L786.3 768.9 L786.4 767.8 L786.5 766.6 L786.5 765.4 L786.6 764.2 L786.7 763.0 L786.8 761.8 L786.9 760.6 L787.0 759.4 L787.0 758.2 L787.1 757.0 L787.2 755.9 L787.3 754.7 L787.4 753.5 L787.4 752.3 L787.5 751.2 L787.6 750.0 L787.7 748.8 L787.7 747.7 L787.8 746.5 L787.9 745.3 L788.0 744.2 L788.0 743.0 L788.1 741.9 L788.2 740.7 L788.3 739.5 L788.3 738.4 L788.4 737.2 L788.5 736.1 L788.5 734.9 L788.6 733.8 L788.7 732.6 L788.7 731.5 L788.8 730.3 L788.9 729.2 L788.9 728.0 L789.0 726.9 L789.1 725.7 L789.1 724.6 L789.2 723.4 L789.3 722.3 L789.3 721.2 L789.4 720.0 L789.5 718.9 L789.5 717.7 L789.6 716.6 L789.7 715.4 L789.7 714.3 L789.8 713.1 L789.8 712.0 L789.9 710.8 L790.0 709.7 L790.0 708.5 L790.1 707.4 L790.2 706.2 L790.2 705.1 L790.3 704.0 L790.3 702.8 L790.4 701.7 L790.5 700.5 L790.5 699.4 L790.6 698.2 L790.6 697.1 L790.7 695.9 L790.8 694.8 L790.8 693.6 L790.9 692.5 L790.9 691.3 L791.0 690.2 L791.0 689.0 L791.1 687.9 L791.2 686.7 L791.2 685.6 L791.3 684.4 L791.3 683.3 L791.4 682.1 L791.4 681.0 L791.5 679.8 L791.6 678.7 L791.6 677.5 L791.7 676.4 L791.7 675.2 L791.8 674.1 L791.8 672.9 L791.9 671.8 L791.9 670.6 L792.0 669.5 L792.1 668.4 L792.1 667.2 L792.2 666.1 L792.2 664.9 L792.3 663.8 L792.3 662.6 L792.4 661.5 L792.4 660.3 L792.5 659.2 L792.5 658.0 L792.6 656.9 L792.6 655.7 L792.7 654.6 L792.7 653.4 L792.8 652.3 L792.8 651.1 L792.9 650.0 L792.9 648.8 L793.0 647.6 L793.0 646.5 L793.1 645.3 L793.1 644.2 L793.2 643.0 L793.2 641.9 L793.3 640.7 L793.3 639.6 L793.4 638.4 L793.4 637.3 L793.5 636.1 L793.5 635.0 L793.6 633.8 L793.6 632.7 L793.7 631.5 L793.7 630.4 L793.8 629.2 L793.8 628.1 L793.9 626.9 L793.9 625.8 L794.0 624.6 L794.0 623.5 L794.0 622.3 L794.1 621.2 L794.1 620.0 L794.2 618.9 L794.2 617.7 L794.3 616.6 L794.3 615.4 L794.4 614.3 L794.4 613.1 L794.4 612.0 L794.5 610.8 L794.5 609.7 L794.6 608.5 L794.6 607.3 L794.7 606.2 L794.7 605.0 L794.8 603.9 L794.8 602.7 L794.8 601.6 L794.9 600.4 L794.9 599.3 L795.0 598.1 L795.0 597.0 L795.0 595.8 L795.1 594.7 L795.1 593.5 L795.2 592.4 L795.2 591.2 L795.3 590.1 L795.3 588.9 L795.3 587.8 L795.4 586.6 L795.4 585.4 L795.5 584.3 L795.5 583.1 L795.5 582.0 L795.6 580.8 L795.6 579.7 L795.7 578.5 L795.7 577.4 L795.7 576.2 L795.8 575.1 L795.8 573.9 L795.9 572.8 L795.9 571.6 L795.9 570.5 L796.0 569.3 L796.0 568.2 L796.0 567.0 L796.1 565.8 L796.1 564.7 L796.2 563.5 L796.2 562.4 L796.2 561.2 L796.3 560.1 L796.3 558.9 L796.3 557.8 L796.4 556.6 L796.4 555.5 L796.4 554.3 L796.5 553.2 L796.5 552.0 L796.6 550.9 L796.6 549.7 L796.6 548.5 L796.7 547.4 L796.7 546.2 L796.7 545.1 L796.8 543.9 L796.8 542.8 L796.8 541.6 L796.9 540.5 L796.9 539.3 L796.9 538.2 L797.0 537.0 L797.0 535.9 L797.0 534.7 L797.1 533.5 L797.1 532.4 L797.1 531.2 L797.2 530.1 L797.2 528.9 L797.2 527.8 L797.3 526.6 L797.3 525.5 L797.3 524.3 L797.4 523.2 L797.4 522.0 L797.4 520.9 L797.5 519.7 L797.5 518.6 L797.5 517.4 L797.6 516.2 L797.6 515.1 L797.6 513.9 L797.7 512.8 L797.7 511.6 L797.7 510.5 L797.8 509.3 L797.8 508.2 L797.8 507.0 L797.9 505.9 L797.9 504.7 L797.9 503.6 L797.9 502.4 L798.0 501.2 L798.0 500.1 L798.0 498.9 L798.1 497.8 L798.1 496.6 L798.1 495.5 L798.2 494.3 L798.2 493.2 L798.2 492.0 L798.3 490.9 L798.3 489.7 L798.3 488.6 L798.3 487.4 L798.4 486.2 L798.4 485.1 L798.4 483.9 L798.5 482.8 L798.5 481.6 L798.5 480.5 L798.5 479.3 L798.6 478.2 L798.6 477.0 L798.6 475.9 L798.7 474.7 L798.7 473.6 L798.7 472.4 L798.7 471.3 L798.8 470.1 L798.8 469.0 L798.8 467.8 L798.9 466.7 L798.9 465.5 L798.9 464.3 L798.9 463.2 L799.0 462.0 L799.0 460.9 L799.0 459.8 L799.0 458.6 L799.1 457.5 L799.1 456.3 L799.1 455.2 L799.1 454.0 L799.2 452.9 L799.2 451.7 L799.2 450.6 L799.2 449.4 L799.2 448.3 L799.3 447.2 L799.3 446.0 L799.3 444.9 L799.3 443.7 L799.4 442.6 L799.4 441.5 L799.4 440.3 L799.4 439.2 L799.4 438.1 L799.4 436.9 L799.5 435.8 L799.5 434.7 L799.5 433.5 L799.5 432.4 L799.5 431.3 L799.5 430.1 L799.6 429.0 L799.6 427.9 L799.6 426.7 L799.6 425.6 L799.6 424.5 L799.6 423.3 L799.6 422.2 L799.7 421.0 L799.7 419.9 L799.7 418.7 L799.7 417.6 L799.7 416.4 L799.7 415.3 L799.7 414.1 L799.8 413.0 L799.8 411.8 L799.8 410.6 L799.8 409.4 L799.8 408.3 L799.8 407.1 L799.8 405.9 L799.8 404.7 L799.9 403.5 L799.9 402.3 L799.9 401.1 L799.9 399.9 L799.9 398.6 L799.9 397.4 L799.9 396.2 L800.0 394.9 L800.0 393.7 L800.0 392.5 L800.0 391.2 L800.0 389.9 L800.0 388.7 L800.0 387.4 L800.1 386.1 L800.1 384.9 L800.1 383.6 L800.1 382.3 L800.1 381.0 L800.1 379.7 L800.2 378.5 L800.2 377.2 L800.2 375.9 L800.2 374.6 L800.2 373.3 L800.2 372.0 L800.3 370.7 L800.3 369.4 L800.3 368.0 L800.3 366.7 L800.3 365.4 L800.3 364.1 L800.4 362.8 L800.4 361.5 L800.4 360.2 L800.4 358.9 L800.4 357.6 L800.4 356.3 L800.5 354.9 L800.5 353.6 L800.5 352.3 L800.5 351.0 L800.5 349.7 L800.5 348.4 L800.5 347.1 L800.6 345.8 L800.6 344.5 L800.6 343.2 L800.6 341.9 L800.6 340.6 L800.6 339.3 L800.6 338.0 L800.7 336.7 L800.7 335.4 L800.7 334.1 L800.7 332.8 L800.7 331.5 L800.7 330.2 L800.7 328.9 L800.8 327.6 L800.8 326.3 L800.8 325.1 L800.8 323.8 L800.8 322.5 L800.8 321.2 L800.8 319.9 L800.8 318.6 L800.9 317.3 L800.9 316.0 L800.9 314.8 L800.9 313.5 L800.9 312.2 L800.9 310.9 L800.9 309.6 L800.9 308.3 L801.0 307.1 L801.0 305.8 L801.0 304.5 L801.0 303.2 L801.0 301.9 L801.0 300.7 L801.0 299.4 L801.0 298.1 L801.0 296.8 L801.1 295.5 L801.1 294.2 L801.1 293.0 L801.1 291.7 L801.1 290.4 L801.1 289.1 L801.1 287.8 L801.1 286.6 L801.1 285.3 L801.2 284.0 L801.2 282.7 L801.2 281.4 L801.2 280.1 L801.2 278.9 L801.2 277.6 L801.2 276.3 L801.2 275.0 L801.2 273.7 L801.3 272.4 L801.3 271.1 L801.3 269.9 L801.3 268.6 L801.3 267.3 L801.3 266.0 L801.3 264.7 L801.3 263.4 L801.3 262.1 L801.3 260.8 L801.4 259.5 L801.4 258.2 L801.4 257.0 L801.4 255.7 L801.4 254.4 L801.4 253.1 L801.4 251.8 L801.4 250.5 L801.4 249.2 L801.4 247.9 L801.5 246.6 L801.5 245.3 L801.5 244.0 L801.5 242.7 L801.5 241.4 L801.5 240.0 L801.5 238.7 L801.5 237.4 L801.5 236.1 L801.5 234.8 L801.5 233.5 L801.6 232.2 L801.6 230.9 L801.6 229.6 L801.6 228.3 L801.6 227.0 L801.6 225.7 L801.6 224.4 L801.6 223.1 L801.6 221.9 L801.6 220.6 L801.7 219.3 L801.7 218.0 L801.7 216.7 L801.7 215.4 L801.7 214.1 L801.7 212.9 L801.7 211.6 L801.7 210.3 L801.7 209.1 L801.7 207.8 L801.7 206.5 L801.8 205.3 L801.8 204.0 L801.8 202.8 L801.8 201.5 L801.8 200.3 L801.8 199.1 L801.8 197.8 L801.8 196.6 L801.8 195.4 L801.8 194.2 L801.8 192.9 L801.8 191.7 L801.9 190.5 L801.9 189.3 L801.9 188.1 L801.9 186.9 L801.9 185.7 L801.9 184.6 L801.9 183.4 L801.9 182.2 L801.9 181.0 L801.9 179.9 L801.9 178.7 L801.9 177.6 L802.0 176.4 L802.0 175.3 L802.0 174.1 L802.0 173.0 L802.0 171.8 L802.0 170.7 L802.0 169.6 L802.0 168.5 L802.0 167.4 L802.0 166.3 L802.0 165.2 L802.0 164.1 L802.0 163.0 L802.0 161.9 L802.1 160.8 L802.1 159.7 L802.1 158.7 L802.1 157.6 L802.1 156.5 L802.1 155.5 L802.1 154.4 L802.1 153.4 L802.1 152.4 L802.1 151.3 L802.1 150.3 L802.1 149.3 L802.1 148.3 L802.1 147.3 L802.2 146.2 L802.2 145.2 L802.2 144.3 L802.2 143.3 L802.2 142.3 L802.2 141.3 L802.2 140.3 L802.2 139.4 L802.2 138.4 L802.2 137.5 L802.2 136.5 L802.2 135.6 L802.2 134.6 L802.2 133.7 L802.2 132.8 L802.2 131.9 L802.3 131.0 L802.3 130.1 L802.3 129.2 L802.3 128.3 L802.3 127.4 L802.3 126.5 L802.3 125.6 L802.3 124.8 L802.3 123.9 L802.3 123.0 L802.3 122.2 L802.3 121.4 L802.3 120.5 L802.3 119.7 L802.3 118.9 L802.3 118.1 L802.3 117.2 L802.4 116.4 L802.4 115.6 L802.4 114.9 L802.4 114.1 L802.4 113.3 L802.4 112.5 L802.4 111.8 L802.4 111.0 L802.4 110.3 L802.4 109.5 L802.4 108.8 L802.4 108.1 L802.4 107.3 L802.4 106.6 L802.4 105.9 L802.4 105.2 L802.4 104.5 L802.4 103.8 L802.5 103.2 L802.5 102.5 L802.5 101.8 L802.5 101.2 L802.5 100.5 L802.5 99.9 L802.5 99.2 L802.5 98.6 L802.5 98.0 L802.5 97.4 L802.5 96.8 L802.5 96.2 L802.5 95.6 L802.5 95.0 L802.5 94.4 L802.5 93.9 L802.6 93.3 L802.6 92.7 L802.6 92.2 L802.6 91.7 L802.6 91.1 L802.6 90.6 L802.6 90.1 L802.6 89.6 L802.6 89.1 L802.6 88.6 L802.6 88.1 L802.6 87.6 L802.7 87.2 L802.7 86.7 L802.7 86.3 L802.7 85.8 L802.7 85.4 L802.7 84.9 L802.7 84.5 L802.7 84.1 L802.7 83.7 L802.8 83.3 L802.8 82.9 L802.8 82.4 L802.8 82.0 L802.8 82.4 L802.8 82.8 L802.8 83.2 L802.9 83.6 L802.9 84.0 L802.9 84.4 L802.9 84.8 L802.9 85.2 L802.9 85.7 L802.9 86.1 L802.9 86.5 L803.0 86.9 L803.0 87.4 L803.0 87.8 L803.0 88.2 L803.0 88.7 L803.0 89.1 L803.0 89.6 L803.0 90.1 L803.0 90.5 L803.0 91.0 L803.0 91.5 L803.0 92.0 L803.0 92.5 L803.0 93.0 L803.0 93.5 L803.1 94.0 L803.1 94.5 L803.1 95.0 L803.1 95.6 L803.1 96.1 L803.1 96.7 L803.1 97.2 L803.1 97.8 L803.1 98.4 L803.1 99.0 L803.1 99.5 L803.1 100.1 L803.1 100.7 L803.1 101.4 L803.1 102.0 L803.1 102.6 L803.1 103.2 L803.1 103.9 L803.2 104.5 L803.2 105.2 L803.2 105.8 L803.2 106.5 L803.2 107.2 L803.2 107.9 L803.2 108.5 L803.2 109.2 L803.2 109.9 L803.2 110.6 L803.2 111.3 L803.2 112.1 L803.2 112.8 L803.2 113.5 L803.2 114.2 L803.2 115.0 L803.2 115.7 L803.2 116.5 L803.3 117.2 L803.3 118.0 L803.3 118.8 L803.3 119.5 L803.3 120.3 L803.3 121.1 L803.3 121.9 L803.3 122.7 L803.3 123.5 L803.3 124.3 L803.3 125.1 L803.3 125.9 L803.3 126.7 L803.3 127.6 L803.3 128.4 L803.3 129.2 L803.3 130.1 L803.4 130.9 L803.4 131.8 L803.4 132.6 L803.4 133.5 L803.4 134.4 L803.4 135.2 L803.4 136.1 L803.4 137.0 L803.4 137.9 L803.4 138.8 L803.4 139.7 L803.4 140.6 L803.4 141.5 L803.4 142.4 L803.4 143.3 L803.4 144.3 L803.4 145.2 L803.5 146.1 L803.5 147.1 L803.5 148.0 L803.5 149.0 L803.5 149.9 L803.5 150.9 L803.5 151.8 L803.5 152.8 L803.5 153.8 L803.5 154.7 L803.5 155.7 L803.5 156.7 L803.5 157.7 L803.5 158.7 L803.5 159.7 L803.5 160.7 L803.6 161.7 L803.6 162.7 L803.6 163.7 L803.6 164.8 L803.6 165.8 L803.6 166.8 L803.6 167.9 L803.6 168.9 L803.6 169.9 L803.6 171.0 L803.6 172.0 L803.6 173.1 L803.6 174.2 L803.6 175.2 L803.7 176.3 L803.7 177.4 L803.7 178.4 L803.7 179.5 L803.7 180.6 L803.7 181.7 L803.7 182.8 L803.7 183.9 L803.7 185.0 L803.7 186.1 L803.7 187.2 L803.7 188.3 L803.7 189.4 L803.7 190.6 L803.8 191.7 L803.8 192.8 L803.8 194.0 L803.8 195.1 L803.8 196.2 L803.8 197.4 L803.8 198.5 L803.8 199.7 L803.8 200.8 L803.8 202.0 L803.8 203.2 L803.8 204.3 L803.8 205.5 L803.9 206.7 L803.9 207.9 L803.9 209.1 L803.9 210.2 L803.9 211.4 L803.9 212.6 L803.9 213.8 L803.9 215.0 L803.9 216.2 L803.9 217.4 L803.9 218.6 L803.9 219.8 L804.0 221.0 L804.0 222.2 L804.0 223.5 L804.0 224.7 L804.0 225.9 L804.0 227.1 L804.0 228.3 L804.0 229.5 L804.0 230.7 L804.0 232.0 L804.0 233.2 L804.1 234.4 L804.1 235.6 L804.1 236.9 L804.1 238.1 L804.1 239.3 L804.1 240.5 L804.1 241.7 L804.1 243.0 L804.1 244.2 L804.1 245.4 L804.1 246.6 L804.2 247.9 L804.2 249.1 L804.2 250.3 L804.2 251.5 L804.2 252.7 L804.2 254.0 L804.2 255.2 L804.2 256.4 L804.2 257.6 L804.2 258.8 L804.2 260.0 L804.3 261.2 L804.3 262.5 L804.3 263.7 L804.3 264.9 L804.3 266.1 L804.3 267.3 L804.3 268.5 L804.3 269.7 L804.3 270.9 L804.3 272.1 L804.4 273.3 L804.4 274.5 L804.4 275.7 L804.4 276.9 L804.4 278.1 L804.4 279.4 L804.4 280.6 L804.4 281.8 L804.4 283.0 L804.4 284.2 L804.5 285.4 L804.5 286.6 L804.5 287.8 L804.5 289.0 L804.5 290.2 L804.5 291.4 L804.5 292.6 L804.5 293.8 L804.5 295.0 L804.6 296.2 L804.6 297.4 L804.6 298.6 L804.6 299.8 L804.6 301.0 L804.6 302.2 L804.6 303.4 L804.6 304.5 L804.6 305.7 L804.7 306.9 L804.7 308.1 L804.7 309.3 L804.7 310.5 L804.7 311.7 L804.7 312.9 L804.7 314.1 L804.7 315.3 L804.7 316.5 L804.8 317.7 L804.8 318.9 L804.8 320.1 L804.8 321.3 L804.8 322.5 L804.8 323.7 L804.8 324.9 L804.8 326.1 L804.8 327.4 L804.9 328.6 L804.9 329.8 L804.9 331.0 L804.9 332.2 L804.9 333.4 L804.9 334.6 L804.9 335.8 L804.9 337.0 L805.0 338.2 L805.0 339.4 L805.0 340.7 L805.0 341.9 L805.0 343.1 L805.0 344.3 L805.0 345.5 L805.1 346.7 L805.1 348.0 L805.1 349.2 L805.1 350.4 L805.1 351.6 L805.1 352.9 L805.1 354.1 L805.1 355.3 L805.2 356.6 L805.2 357.8 L805.2 359.0 L805.2 360.2 L805.2 361.5 L805.2 362.7 L805.2 363.9 L805.3 365.2 L805.3 366.4 L805.3 367.6 L805.3 368.9 L805.3 370.1 L805.3 371.3 L805.3 372.5 L805.4 373.8 L805.4 375.0 L805.4 376.2 L805.4 377.4 L805.4 378.6 L805.4 379.8 L805.4 381.0 L805.5 382.2 L805.5 383.4 L805.5 384.6 L805.5 385.8 L805.5 387.0 L805.5 388.2 L805.6 389.4 L805.6 390.6 L805.6 391.8 L805.6 392.9 L805.6 394.1 L805.6 395.3 L805.6 396.4 L805.7 397.6 L805.7 398.7 L805.7 399.9 L805.7 401.0 L805.7 402.1 L805.7 403.3 L805.7 404.4 L805.8 405.5 L805.8 406.6 L805.8 407.7 L805.8 408.8 L805.8 409.9 L805.8 411.0 L805.9 412.1 L805.9 413.2 L805.9 414.3 L805.9 415.4 L805.9 416.4 L805.9 417.5 L805.9 418.6 L806.0 419.6 L806.0 420.7 L806.0 421.8 L806.0 422.8 L806.0 423.9 L806.0 425.0 L806.1 426.0 L806.1 427.1 L806.1 428.2 L806.1 429.2 L806.1 430.3 L806.1 431.3 L806.2 432.4 L806.2 433.4 L806.2 434.5 L806.2 435.6 L806.2 436.6 L806.2 437.7 L806.3 438.7 L806.3 439.8 L806.3 440.9 L806.3 441.9 L806.3 443.0 L806.3 444.1 L806.4 445.1 L806.4 446.2 L806.4 447.3 L806.4 448.3 L806.4 449.4 L806.4 450.5 L806.5 451.6 L806.5 452.6 L806.5 453.7 L806.5 454.8 L806.5 455.9 L806.5 456.9 L806.6 458.0 L806.6 459.1 L806.6 460.2 L806.6 461.3 L806.6 462.4 L806.7 463.4 L806.7 464.5 L806.7 465.6 L806.7 466.7 L806.7 467.8 L806.8 468.9 L806.8 469.9 L806.8 471.0 L806.8 472.1 L806.8 473.2 L806.9 474.3 L806.9 475.4 L806.9 476.4 L806.9 477.5 L807.0 478.6 L807.0 479.7 L807.0 480.8 L807.0 481.9 L807.1 482.9 L807.1 484.0 L807.1 485.1 L807.1 486.2 L807.2 487.3 L807.2 488.3 L807.2 489.4 L807.3 490.5 L807.3 491.6 L807.3 492.7 L807.3 493.7 L807.4 494.8 L807.4 495.9 L807.4 497.0 L807.5 498.1 L807.5 499.1 L807.5 500.2 L807.5 501.3 L807.6 502.4 L807.6 503.5 L807.6 504.5 L807.7 505.6 L807.7 506.7 L807.7 507.8 L807.8 508.8 L807.8 509.9 L807.8 511.0 L807.9 512.1 L807.9 513.1 L807.9 514.2 L808.0 515.3 L808.0 516.4 L808.0 517.5 L808.1 518.5 L808.1 519.6 L808.1 520.7 L808.2 521.8 L808.2 522.8 L808.2 523.9 L808.3 525.0 L808.3 526.1 L808.3 527.1 L808.4 528.2 L808.4 529.3 L808.4 530.4 L808.5 531.5 L808.5 532.5 L808.5 533.6 L808.6 534.7 L808.6 535.8 L808.6 536.9 L808.7 537.9 L808.7 539.0 L808.7 540.1 L808.8 541.2 L808.8 542.2 L808.8 543.3 L808.9 544.4 L808.9 545.5 L808.9 546.6 L809.0 547.6 L809.0 548.7 L809.0 549.8 L809.1 550.9 L809.1 552.0 L809.1 553.0 L809.2 554.1 L809.2 555.2 L809.3 556.3 L809.3 557.4 L809.3 558.4 L809.4 559.5 L809.4 560.6 L809.4 561.7 L809.5 562.7 L809.5 563.8 L809.5 564.9 L809.6 566.0 L809.6 567.1 L809.7 568.1 L809.7 569.2 L809.7 570.3 L809.8 571.4 L809.8 572.5 L809.8 573.5 L809.9 574.6 L809.9 575.7 L809.9 576.8 L810.0 577.9 L810.0 578.9 L810.1 580.0 L810.1 581.1 L810.1 582.2 L810.2 583.2 L810.2 584.3 L810.2 585.4 L810.3 586.5 L810.3 587.6 L810.4 588.6 L810.4 589.7 L810.4 590.8 L810.5 591.9 L810.5 593.0 L810.6 594.0 L810.6 595.1 L810.6 596.2 L810.7 597.3 L810.7 598.3 L810.7 599.4 L810.8 600.5 L810.8 601.6 L810.9 602.7 L810.9 603.7 L810.9 604.8 L811.0 605.9 L811.0 607.0 L811.1 608.0 L811.1 609.1 L811.1 610.2 L811.2 611.3 L811.2 612.4 L811.3 613.4 L811.3 614.5 L811.3 615.6 L811.4 616.7 L811.4 617.7 L811.5 618.8 L811.5 619.9 L811.5 621.0 L811.6 622.1 L811.6 623.1 L811.7 624.2 L811.7 625.3 L811.7 626.4 L811.8 627.4 L811.8 628.5 L811.9 629.6 L811.9 630.7 L811.9 631.8 L812.0 632.8 L812.0 633.9 L812.1 635.0 L812.1 636.1 L812.2 637.1 L812.2 638.2 L812.2 639.3 L812.3 640.4 L812.3 641.5 L812.4 642.5 L812.4 643.6 L812.5 644.7 L812.5 645.8 L812.6 646.8 L812.6 647.9 L812.6 649.0 L812.7 650.1 L812.7 651.2 L812.8 652.2 L812.8 653.3 L812.9 654.4 L812.9 655.5 L813.0 656.5 L813.0 657.6 L813.1 658.7 L813.1 659.8 L813.2 660.9 L813.2 661.9 L813.3 663.0 L813.3 664.1 L813.4 665.2 L813.4 666.3 L813.4 667.3 L813.5 668.4 L813.5 669.5 L813.6 670.6 L813.6 671.7 L813.7 672.7 L813.8 673.8 L813.8 674.9 L813.9 676.0 L813.9 677.1 L814.0 678.1 L814.0 679.2 L814.1 680.3 L814.1 681.4 L814.2 682.5 L814.2 683.6 L814.3 684.6 L814.3 685.7 L814.4 686.8 L814.4 687.9 L814.5 689.0 L814.5 690.0 L814.6 691.1 L814.7 692.2 L814.7 693.3 L814.8 694.4 L814.8 695.4 L814.9 696.5 L814.9 697.6 L815.0 698.7 L815.1 699.8 L815.1 700.8 L815.2 701.9 L815.2 703.0 L815.3 704.1 L815.4 705.2 L815.4 706.2 L815.5 707.3 L815.5 708.4 L815.6 709.5 L815.6 710.5 L815.7 711.6 L815.8 712.7 L815.8 713.7 L815.9 714.8 L816.0 715.9 L816.0 717.0 L816.1 718.0 L816.1 719.1 L816.2 720.2 L816.3 721.2 L816.3 722.3 L816.4 723.4 L816.5 724.4 L816.5 725.5 L816.6 726.5 L816.6 727.6 L816.7 728.7 L816.8 729.7 L816.8 730.8 L816.9 731.9 L817.0 732.9 L817.0 734.0 L817.1 735.1 L817.2 736.1 L817.2 737.2 L817.3 738.3 L817.4 739.3 L817.4 740.4 L817.5 741.5 L817.6 742.5 L817.6 743.6 L817.7 744.7 L817.8 745.8 L817.8 746.9 L817.9 747.9 L818.0 749.0 L818.1 750.1 L818.1 751.2 L818.2 752.3 L818.3 753.4 L818.3 754.5 L818.4 755.6 L818.5 756.7 L818.6 757.8 L818.6 758.9 L818.7 760.1 L818.8 761.2 L818.9 762.3 L818.9 763.4 L819.0 764.6 L819.1 765.7 L819.2 766.8 L819.3 768.0 L819.3 769.1 L819.4 770.3 L819.5 771.4 L819.6 772.5 L819.6 773.7 L819.7 774.8 L819.8 775.9 L819.9 777.0 L820.0 778.2 L820.0 779.3 L820.1 780.4 L820.2 781.5 L820.3 782.6 L820.4 783.7 L820.5 784.8 L820.5 785.8 L820.6 786.9 L820.7 788.0 L820.8 789.0 L820.9 790.1 L821.0 791.1 L821.0 792.1 L821.1 793.2 L821.2 794.2 L821.3 795.1 L821.4 796.1 L821.5 797.1 L821.5 798.0 L821.6 799.0 L821.7 799.9 L821.8 800.8 L821.9 801.7 L822.0 802.6 L822.0 803.4 L822.1 804.3 L822.2 805.1 L822.3 806.0 L822.4 806.8 L822.5 807.6 L822.5 808.4 L822.6 809.2 L822.7 810.0 L822.8 810.8 L822.9 811.6 L823.0 812.4 L823.0 813.1 L823.1 813.9 L823.2 814.7 L823.3 815.5 L823.4 816.2 L823.5 817.0 L823.5 817.8 L823.6 818.6 L823.7 819.3 L823.8 820.1 L823.9 820.9 L824.0 821.7 L824.0 822.5 L824.1 823.3 L824.2 824.1 L824.3 824.9 L824.4 825.7 L824.4 826.5 L824.5 827.4 L824.6 828.2 L824.7 829.0 L824.8 829.9 L824.8 830.7 L824.9 831.6 L825.0 832.4 L825.1 833.3 L825.2 834.1 L825.3 835.0 L825.3 835.8 L825.4 836.7 L825.5 837.5 L825.6 838.4 L825.7 839.3 L825.7 840.1 L825.8 841.0 L825.9 841.9 L826.0 842.7 L826.1 843.6 L826.1 844.5 L826.2 845.3 L826.3 846.2 L826.4 847.1 L826.5 847.9 L826.6 848.8 L826.6 849.7 L826.7 850.5 L826.8 851.4 L826.9 852.3 L827.0 853.1 L827.0 854.0 L827.1 854.8 L827.2 855.7 L827.3 856.6 L827.4 857.4 L827.5 858.3 L827.5 859.2 L827.6 860.0 L827.7 860.9 L827.8 861.7 L827.9 862.6 L828.0 863.5 L828.1 864.3 L828.2 865.2 L828.2 866.0 L828.3 866.9 L828.4 867.8 L828.5 868.6 L828.6 869.5 L828.7 870.3 L828.8 871.2 L828.9 872.1 L829.0 872.9 L829.1 873.8 L829.2 874.7 L829.3 875.5 L829.4 876.4 L829.5 877.2 L829.6 878.1 L829.7 879.0 L829.8 879.8 L829.9 880.7 L830.0 881.6 L830.1 882.4 L830.2 883.3 L830.3 884.2 L830.4 885.1 L830.5 885.9 L830.6 886.8 L830.7 887.7 L830.8 888.5 L830.9 889.4 L831.0 890.3 L831.2 891.2 L831.3 892.1 L831.4 892.9 L831.5 893.8 L831.6 894.7 L831.8 895.6 L831.9 896.5 L832.0 897.3 L832.1 898.2 L832.3 899.1 L832.4 900.0 L832.5 900.9 L832.6 901.8 L832.8 902.7 L832.9 903.6 L833.1 904.5 L833.2 905.4 L833.3 906.3 L833.5 907.2 L833.6 908.1 L833.8 909.0 L833.9 909.9 L834.0 910.8 L834.2 911.7 L834.3 912.6 L834.5 913.5 L834.6 914.4 L834.8 915.3 L834.9 916.2 L835.1 917.1 L835.3 918.0 L835.4 918.9 L835.6 919.8 L835.7 920.7 L835.9 921.6 L836.1 922.5 L836.2 923.5 L836.4 924.4 L836.6 925.3 L836.7 926.2 L836.9 927.1 L837.1 928.0 L837.3 928.9 L837.4 929.8 L837.6 930.7 L837.8 931.6 L838.0 932.5 L838.1 933.4 L838.3 934.3 L838.5 935.2 L838.7 936.1 L838.9 937.0 L839.0 937.9 L839.2 938.8 L839.4 939.7 L839.6 940.6 L839.8 941.5 L840.0 942.4 L840.2 943.3 L840.4 944.2 L840.6 945.1 L840.8 946.0 L841.0 946.9 L841.2 947.8 L841.4 948.6 L841.6 949.5 L841.8 950.4 L842.0 951.3 L842.2 952.2 L842.4 953.0 L842.6 953.9 L842.8 954.8 L843.0 955.7 L843.2 956.5 L843.4 957.4 L843.6 958.3 L843.8 959.1 L844.0 960.0 L844.3 960.8 L844.5 961.7 L844.7 962.5 L844.9 963.4 L845.1 964.2 L845.3 965.1 L845.6 965.9 L845.8 966.8 L846.0 967.6 L846.2 968.4 L846.4 969.3 L846.7 970.1 L846.9 970.9 L847.1 971.7 L847.4 972.6 L847.6 973.4 L847.8 974.2 L848.0 975.0 L848.3 975.8 L848.5 976.6 L848.7 977.4 L849.0 978.2 L849.2 979.0 L849.4 979.8 L849.7 980.6 L849.9 981.4 L850.2 982.1 L850.4 982.9 L850.6 983.7 L850.9 984.4 L851.1 985.2 L851.4 986.0 L851.6 986.7 L851.8 987.5 L852.1 988.2 L852.3 989.0 L852.6 989.7 L852.8 990.4 L853.1 991.2 L853.3 991.9 L853.6 992.6 L853.8 993.3 L854.1 994.0 L854.3 994.7 L854.6 995.4 L854.8 996.1 L855.1 996.8 L855.3 997.5 L855.6 998.2 L855.8 998.9 L856.1 999.5 L856.3 1000.2 L856.6 1000.9 L856.9 1001.5 L857.1 1002.2 L857.4 1002.8 L857.6 1003.4 L857.9 1004.1 L858.2 1004.7 L858.4 1005.3 L858.7 1006.0 L859.0 1006.6 L859.2 1007.2 L859.5 1007.8 L859.8 1008.4 L860.1 1009.0 L860.3 1009.6 L860.6 1010.2 L860.9 1010.8 L861.2 1011.4 L861.5 1012.0 L861.7 1012.6 L862.0 1013.2 L862.3 1013.8 L862.6 1014.3 L862.9 1014.9 L863.2 1015.5 L863.5 1016.1 L863.8 1016.6 L864.1 1017.2 L864.5 1017.8 L864.8 1018.3 L865.1 1018.9 L865.4 1019.5 L865.8 1020.0 L866.1 1020.6 L866.4 1021.2 L866.8 1021.7 L867.1 1022.3 L867.5 1022.9 L867.9 1023.4 L868.2 1024.0 L868.6 1024.5 L869.0 1025.1 L869.4 1025.7 L869.7 1026.2 L870.1 1026.8 L870.5 1027.3 L870.9 1027.9 L871.4 1028.5 L871.8 1029.0 L872.2 1029.6 L872.6 1030.1 L873.0 1030.7 L873.5 1031.2 L873.9 1031.7 L874.4 1032.3 L874.8 1032.8 L875.3 1033.3 L875.7 1033.8 L876.2 1034.3 L876.7 1034.8 L877.1 1035.3 L877.6 1035.8 L878.1 1036.2 L878.6 1036.7 L879.1 1037.1 L879.6 1037.5 L880.0 1037.9 L880.5 1038.3 L881.0 1038.7 L881.5 1039.1 L882.1 1039.5 L882.6 1039.8 L883.1 1040.1 L883.6 1040.5 L884.1 1040.8 L884.6 1041.1 L885.2 1041.4 L885.7 1041.6 L886.2 1041.9 L886.8 1042.1 L887.3 1042.4 L887.8 1042.6 L888.4 1042.8 L888.9 1043.0 L889.5 1043.2 L890.0 1043.4 L890.6 1043.6 L891.1 1043.7 L891.7 1043.9 L892.3 1044.0 L892.8 1044.2 L893.4 1044.3 L894.0 1044.4 L894.5 1044.5 L895.1 1044.6 L895.7 1044.7 L896.3 1044.7 L896.9 1044.8 L897.4 1044.9 L898.0 1044.9 L898.6 1045.0 L899.2 1045.0 L899.8 1045.0 L900.4 1045.0 L901.0 1045.0 L901.6 1045.0 L902.2 1045.0 L902.8 1045.0 L903.4 1045.0 L904.0 1045.0 L904.6 1044.9 L905.2 1044.9 L905.8 1044.8 L906.4 1044.8 L907.1 1044.7 L907.7 1044.7 L908.3 1044.6 L908.9 1044.5 L909.5 1044.4 L910.2 1044.4 L910.8 1044.3 L911.4 1044.2 L912.0 1044.1 L912.7 1044.0 L913.3 1043.9 L913.9 1043.8 L914.5 1043.7 L915.2 1043.6 L915.8 1043.5 L916.5 1043.4 L917.1 1043.3 L917.7 1043.2 L918.4 1043.1 L919.0 1043.0 L919.6 1042.9 L920.3 1042.8 L920.9 1042.7 L921.6 1042.6 L922.2 1042.5 L922.9 1042.4 L923.5 1042.3 L924.2 1042.2 L924.8 1042.2 L925.5 1042.1 L926.1 1042.0 L926.8 1041.9 L927.4 1041.9 L928.1 1041.8 L928.7 1041.7 L929.4 1041.7 L930.1 1041.6 L930.7 1041.6 L931.4 1041.6 L932.0 1041.5 L932.7 1041.5 L933.3 1041.5 L934.0 1041.5 L934.7 1041.5 L935.3 1041.5 L936.0 1041.5 L936.6 1041.5 L937.3 1041.5 L938.0 1041.6 L938.6 1041.6 L939.3 1041.6 L940.0 1041.7 L940.6 1041.7 L941.3 1041.8 L942.0 1041.8 L942.6 1041.9 L943.3 1042.0 L943.9 1042.0 L944.6 1042.1 L945.3 1042.2 L945.9 1042.3 L946.6 1042.4 L947.3 1042.5 L947.9 1042.6 L948.6 1042.7 L949.3 1042.8 L949.9 1042.9 L950.6 1043.0 L951.2 1043.1 L951.9 1043.2 L952.6 1043.4 L953.2 1043.5 L953.9 1043.6 L954.5 1043.8 L955.2 1043.9 L955.9 1044.0 L956.5 1044.2 L957.2 1044.3 L957.8 1044.5 L958.5 1044.6 L959.1 1044.8 L959.8 1044.9 L960.5 1045.1 L961.1 1045.2 L961.8 1045.4 L962.4 1045.5 L963.1 1045.7 L963.7 1045.9 L964.4 1046.0 L965.0 1046.2 L965.7 1046.4 L966.3 1046.6 L967.0 1046.7 L967.6 1046.9 L968.3 1047.1 L968.9 1047.3 L969.5 1047.4 L970.2 1047.6 L970.8 1047.8 L971.5 1048.0 L972.1 1048.2 L972.8 1048.4 L973.4 1048.5 L974.0 1048.7 L974.7 1048.9 L975.3 1049.1 L976.0 1049.3 L976.6 1049.5 L977.2 1049.7 L977.9 1049.9 L978.5 1050.1 L979.2 1050.3 L979.8 1050.5 L980.4 1050.7 L981.1 1050.9 L981.7 1051.0 L982.4 1051.2 L983.0 1051.4 L983.6 1051.6 L984.3 1051.8 L984.9 1052.0 L985.5 1052.2 L986.2 1052.4 L986.8 1052.6 L987.5 1052.8 L988.1 1053.0 L988.7 1053.2 L989.4 1053.4 L990.0 1053.6 L990.6 1053.8 L991.3 1054.0 L991.9 1054.2 L992.6 1054.4 L993.2 1054.6 L993.8 1054.8 L994.5 1055.0 L995.1 1055.2 L995.8 1055.4 L996.4 1055.6 L997.1 1055.8 L997.8 1056.0 L998.5 1056.2 L999.1 1056.3 L999.8 1056.5 L1000.5 1056.7 L1001.2 1056.9 L1001.9 1057.0 L1002.7 1057.2 L1003.4 1057.4 L1004.2 1057.5 L1004.9 1057.7 L1005.7 1057.8 L1006.5 1058.0 L1007.3 1058.1 L1008.1 1058.3 L1008.9 1058.4 L1009.7 1058.5 L1010.6 1058.7 L1011.4 1058.8 L1012.3 1058.9 L1013.2 1059.0 L1014.0 1059.1 L1014.9 1059.2 L1015.9 1059.3 L1016.8 1059.4 L1017.7 1059.5 L1018.7 1059.6 L1019.6 1059.7 L1020.6 1059.8 L1021.6 1059.9 L1022.6 1060.0 L1023.6 1060.1 L1024.6 1060.1 L1025.6 1060.2 L1026.6 1060.3 L1027.7 1060.3 L1028.7 1060.4 L1029.8 1060.5 L1030.9 1060.5 L1031.9 1060.6 L1033.0 1060.6 L1034.1 1060.7 L1035.3 1060.7 L1036.4 1060.8 L1037.5 1060.8 L1038.6 1060.9 L1039.8 1060.9 L1041.0 1060.9 L1042.1 1061.0 L1043.3 1061.0 L1044.5 1061.0 L1045.7 1061.1 L1046.9 1061.1 L1048.1 1061.1 L1049.3 1061.1 L1050.6 1061.2 L1051.8 1061.2 L1053.0 1061.2 L1054.3 1061.2 L1055.6 1061.2 L1056.8 1061.3 L1058.1 1061.3 L1059.4 1061.3 L1060.7 1061.3 L1062.0 1061.3 L1063.3 1061.3 L1064.6 1061.3 L1065.9 1061.3 L1067.3 1061.4 L1068.6 1061.4 L1070.0 1061.4 L1071.3 1061.4 L1072.7 1061.4 L1074.0 1061.4 L1075.4 1061.4 L1076.8 1061.4 L1078.2 1061.4 L1079.6 1061.4 L1081.0 1061.4 L1082.4 1061.4 L1083.8 1061.4 L1085.2 1061.4 L1086.6 1061.4 L1088.1 1061.5 L1089.5 1061.5 L1091.0 1061.5 L1092.4 1061.5 L1093.9 1061.5 L1095.3 1061.5 L1096.8 1061.5 L1098.3 1061.5 L1099.7 1061.5 L1101.2 1061.5 L1102.7 1061.6 L1104.2 1061.6 L1105.7 1061.6 L1107.2 1061.6 L1108.7 1061.6 L1110.2 1061.6 L1111.7 1061.6 L1113.2 1061.7 L1114.7 1061.7 L1116.3 1061.7 L1117.8 1061.7 L1119.3 1061.7 L1120.8 1061.7 L1122.4 1061.7 L1123.9 1061.8 L1125.4 1061.8 L1127.0 1061.8 L1128.5 1061.8 L1130.1 1061.8 L1131.6 1061.8 L1133.2 1061.8 L1134.7 1061.8 L1136.3 1061.8 L1137.8 1061.8 L1139.4 1061.8 L1140.9 1061.8 L1142.4 1061.8 L1144.0 1061.8 L1145.5 1061.8 L1147.1 1061.8 L1148.6 1061.8 L1150.2 1061.8 L1151.7 1061.8 L1153.3 1061.7 L1154.8 1061.7 L1156.4 1061.7 L1157.9 1061.6 L1159.4 1061.6 L1161.0 1061.6 L1162.5 1061.5 L1164.0 1061.5 L1165.5 1061.4 L1167.1 1061.4 L1168.6 1061.3 L1170.1 1061.3 L1171.6 1061.2 L1173.1 1061.2 L1174.6 1061.1 L1176.1 1061.0 L1177.6 1060.9 L1179.1 1060.8 L1180.6 1060.8 L1182.1 1060.7 L1183.6 1060.6 L1185.1 1060.5 L1186.5 1060.3 L1188.0 1060.2 L1189.4 1060.1 L1190.9 1060.0 L1192.3 1059.9 L1193.8 1059.7 L1195.2 1059.6 L1196.6 1059.4 L1198.0 1059.3 L1199.4 1059.1 L1200.8 1058.9 L1202.2 1058.8 L1203.6 1058.6 L1205.0 1058.4 L1206.4 1058.2 L1207.7 1058.0 L1209.1 1057.8 L1210.4 1057.6 L1211.8 1057.4 L1213.1 1057.1 L1214.4 1056.9 L1215.7 1056.7 L1217.0 1056.4 L1218.3 1056.1 L1219.6 1055.9 L1220.9 1055.6 L1222.1 1055.3 L1223.4 1055.0 L1224.6 1054.7 L1225.9 1054.4 L1227.1 1054.1 L1228.3 1053.8 L1229.5 1053.5 L1230.6 1053.1 L1231.8 1052.8 L1233.0 1052.4 L1234.1 1052.0 L1235.3 1051.7 L1236.4 1051.3 L1237.5 1050.9 L1238.6 1050.5 L1239.7 1050.1 L1240.7 1049.6 L1241.8 1049.2 L1242.8 1048.8 L1243.8 1048.3 L1244.9 1047.9 L1245.9 1047.4 L1246.8 1046.9 L1247.8 1046.4 L1248.8 1045.9 L1249.7 1045.4 L1250.7 1044.9 L1251.6 1044.4 L1252.5 1043.8 L1253.4 1043.3 L1254.3 1042.7 L1255.2 1042.1 L1256.0 1041.6 L1256.9 1041.0 L1257.7 1040.4 L1258.6 1039.8 L1259.4 1039.2 L1260.2 1038.6 L1261.0 1038.0 L1261.8 1037.3 L1262.5 1036.7 L1263.3 1036.0 L1264.1 1035.4 L1264.8 1034.7 L1265.5 1034.0 L1266.2 1033.4 L1266.9 1032.7 L1267.6 1032.0 L1268.3 1031.3 L1269.0 1030.5 L1269.7 1029.8 L1270.3 1029.1 L1271.0 1028.4 L1271.6 1027.6 L1272.2 1026.9 L1272.8 1026.1 L1273.4 1025.3 L1274.0 1024.6 L1274.6 1023.8 L1275.2 1023.0 L1275.8 1022.2 L1276.3 1021.4 L1276.9 1020.6 L1277.4 1019.8 L1278.0 1018.9 L1278.5 1018.1 L1279.0 1017.3 L1279.5 1016.4 L1280.0 1015.6 L1280.5 1014.7 L1281.0 1013.8 L1281.4 1013.0 L1281.9 1012.1 L1282.3 1011.2 L1282.8 1010.3 L1283.2 1009.4 L1283.7 1008.5 L1284.1 1007.6 L1284.5 1006.7 L1284.9 1005.8 L1285.3 1004.8 L1285.7 1003.9 L1286.1 1003.0 L1286.5 1002.0 L1286.8 1001.1 L1287.2 1000.1 L1287.6 999.2 L1287.9 998.2 L1288.3 997.2 L1288.6 996.2 L1288.9 995.2 L1289.3 994.3 L1289.6 993.3 L1289.9 992.3 L1290.2 991.3 L1290.5 990.2 L1290.8 989.2 L1291.1 988.2 L1291.4 987.2 L1291.6 986.2 L1291.9 985.1 L1292.2 984.1 L1292.4 983.1 L1292.7 982.0 L1292.9 981.0 L1293.2 979.9 L1293.4 978.9 L1293.7 977.8 L1293.9 976.7 L1294.1 975.7 L1294.3 974.6 L1294.5 973.5 L1294.8 972.5 L1295.0 971.4 L1295.2 970.3 L1295.4 969.2 L1295.6 968.1 L1295.7 967.1 L1295.9 966.0 L1296.1 964.9 L1296.3 963.8 L1296.5 962.7 L1296.6 961.6 L1296.8 960.5 L1296.9 959.4 L1297.1 958.3 L1297.3 957.2 L1297.4 956.1 L1297.6 955.0 L1297.7 953.9 L1297.8 952.8 L1298.0 951.6 L1298.1 950.5 L1298.3 949.4 L1298.4 948.3 L1298.5 947.2 L1298.6 946.1 L1298.8 945.0 L1298.9 943.9 L1299.0 942.7 L1299.1 941.6 L1299.2 940.5 L1299.3 939.4 L1299.4 938.3 L1299.6 937.2 L1299.7 936.1 L1299.8 935.0 L1299.9 933.8 L1300.0 932.7 L1300.1 931.6 L1300.2 930.5 L1300.3 929.4 L1300.4 928.3 L1300.5 927.2 L1300.6 926.1 L1300.6 925.0 L1300.7 923.9 L1300.8 922.8 L1300.9 921.7 L1301.0 920.6 L1301.1 919.5 L1301.2 918.4 L1301.3 917.3 L1301.4 916.3 L1301.5 915.2 L1301.6 914.1 L1301.6 913.0 L1301.7 911.9 L1301.8 910.9 L1301.9 909.8 L1302.0 908.7 L1302.1 907.7 L1302.2 906.6 L1302.3 905.6 L1302.4 904.5 L1302.5 903.5 L1302.6 902.4 L1302.7 901.4 L1302.7 900.4 L1302.8 899.3 L1302.9 898.3 L1303.0 897.3 L1303.1 896.3 L1303.2 895.2 L1303.4 894.2 L1303.5 893.2 L1303.6 892.2 L1303.7 891.2 L1303.8 890.3 L1303.9 889.3 L1304.0 888.3 L1304.1 887.3 L1304.3 886.3 L1304.4 885.4 L1304.5 884.4 L1304.6 883.5 L1304.8 882.5 L1304.9 881.6 L1305.0 880.7 L1305.2 879.7 L1305.3 878.8 L1305.5 877.9 L1305.6 877.0 L1305.8 876.1 L1305.9 875.2 L1306.1 874.3 L1306.2 873.4 L1306.4 872.5 L1306.5 871.6 L1306.7 870.7 L1306.9 869.9 L1307.0 869.0 L1307.2 868.1 L1307.3 867.3 L1307.5 866.4 L1307.7 865.5 L1307.8 864.7 L1308.0 863.8 L1308.2 863.0 L1308.4 862.1 L1308.5 861.3 L1308.7 860.5 L1308.9 859.6 L1309.1 858.8 L1309.2 857.9 L1309.4 857.1 L1309.6 856.3 L1309.8 855.4 L1309.9 854.6 L1310.1 853.8 L1310.3 852.9 L1310.5 852.1 L1310.6 851.3 L1310.8 850.5 L1311.0 849.6 L1311.1 848.8 L1311.3 848.0 L1311.5 847.1 L1311.7 846.3 L1311.8 845.5 L1312.0 844.6 L1312.2 843.8 L1312.3 843.0 L1312.5 842.1 L1312.6 841.3 L1312.8 840.5 L1313.0 839.6 L1313.1 838.8 L1313.3 837.9 L1313.4 837.1 L1313.6 836.2 L1313.7 835.4 L1313.9 834.5 L1314.0 833.7 L1314.2 832.8 L1314.3 831.9 L1314.5 831.1 L1314.6 830.2 L1314.7 829.3 L1314.9 828.4 L1315.0 827.6 L1315.1 826.7 L1315.2 825.8 L1315.3 824.9 L1315.5 824.0 L1315.6 823.1 L1315.7 822.2 L1315.8 821.4 L1315.9 820.5 L1316.0 819.6 L1316.1 818.7 L1316.2 817.8 L1316.3 817.0 L1316.4 816.1 L1316.5 815.2 L1316.6 814.3 L1316.7 813.5 L1316.8 812.6 L1316.9 811.8 L1317.0 810.9 L1317.1 810.1 L1317.2 809.2 L1317.3 808.4 L1317.4 807.6 L1317.5 806.8 L1317.5 806.0 L1317.6 805.2 L1317.7 804.4 L1317.8 803.6 L1317.9 802.8 L1317.9 802.1 L1318.0 801.3 L1318.1 800.5 L1318.2 799.8 L1318.3 799.0 L1318.3 798.3 L1318.4 797.5 L1318.5 796.8 L1318.6 796.1 L1318.6 795.3 L1318.7 794.6 L1318.8 793.9 L1318.9 793.1 L1318.9 792.4 L1319.0 791.7 L1319.1 790.9 L1319.2 790.2 L1319.2 789.4 L1319.3 788.7 L1319.4 788.0 L1319.5 787.2 L1319.5 786.4 L1319.6 785.7 L1319.7 784.9 L1319.8 784.1 L1319.9 783.4 L1319.9 782.6 L1320.0 781.8 L1320.1 781.0 L1320.2 780.2 L1320.3 779.3 L1320.4 778.5 L1320.5 777.7 L1320.5 776.8 L1320.6 776.0 L1320.7 775.1 L1320.8 774.3 L1320.9 773.4 L1321.0 772.5 L1321.1 771.6 L1321.2 770.7 L1321.3 769.8 L1321.4 768.9 L1321.5 768.0 L1321.6 767.1 L1321.7 766.1 L1321.8 765.2 L1321.9 764.3 L1322.0 763.3 L1322.1 762.3 L1322.2 761.4 L1322.3 760.4 L1322.4 759.4 L1322.5 758.4 L1322.6 757.4 L1322.7 756.4 L1322.8 755.4 L1322.9 754.4 L1323.0 753.4 L1323.1 752.4 L1323.2 751.3 L1323.3 750.3 L1323.4 749.3 L1323.6 748.2 L1323.7 747.2 L1323.8 746.1 L1323.9 745.1 L1324.0 744.0 L1324.1 742.9 L1324.2 741.9 L1324.3 740.8 L1324.4 739.7 L1324.5 738.6 L1324.6 737.5 L1324.7 736.5 L1324.8 735.4 L1324.9 734.3 L1325.0 733.2 L1325.1 732.1 L1325.3 731.0 L1325.4 729.9 L1325.5 728.8 L1325.6 727.7 L1325.7 726.6 L1325.8 725.5 L1325.9 724.4 L1326.0 723.3 L1326.1 722.2 L1326.2 721.1 L1326.3 720.0 L1326.4 718.9 L1326.5 717.8 L1326.6 716.7 L1326.7 715.6 L1326.8 714.5 L1326.9 713.4 L1327.0 712.3 L1327.1 711.2 L1327.2 710.1 L1327.3 709.0 L1327.4 708.0 L1327.5 706.9 L1327.5 705.8 L1327.6 704.7 L1327.7 703.6 L1327.8 702.5 L1327.9 701.4 L1328.0 700.3 L1328.1 699.2 L1328.2 698.1 L1328.3 697.1 L1328.4 696.0 L1328.5 694.9 L1328.5 693.8 L1328.6 692.7 L1328.7 691.6 L1328.8 690.5 L1328.9 689.5 L1329.0 688.4 L1329.1 687.3 L1329.2 686.2 L1329.2 685.1 L1329.3 684.0 L1329.4 683.0 L1329.5 681.9 L1329.6 680.8 L1329.7 679.7 L1329.7 678.6 L1329.8 677.6 L1329.9 676.5 L1330.0 675.4 L1330.1 674.3 L1330.2 673.2 L1330.2 672.2 L1330.3 671.1 L1330.4 670.0 L1330.5 668.9 L1330.5 667.8 L1330.6 666.8 L1330.7 665.7 L1330.8 664.6 L1330.9 663.5 L1330.9 662.5 L1331.0 661.4 L1331.1 660.3 L1331.2 659.2 L1331.2 658.2 L1331.3 657.1 L1331.4 656.0 L1331.5 654.9 L1331.5 653.9 L1331.6 652.8 L1331.7 651.7 L1331.7 650.6 L1331.8 649.6 L1331.9 648.5 L1332.0 647.4 L1332.0 646.4 L1332.1 645.3 L1332.2 644.2 L1332.2 643.1 L1332.3 642.1 L1332.4 641.0 L1332.4 639.9 L1332.5 638.8 L1332.6 637.8 L1332.7 636.7 L1332.7 635.6 L1332.8 634.6 L1332.9 633.5 L1332.9 632.4 L1333.0 631.3 L1333.1 630.3 L1333.1 629.2 L1333.2 628.1 L1333.2 627.0 L1333.3 626.0 L1333.4 624.9 L1333.4 623.8 L1333.5 622.8 L1333.6 621.7 L1333.6 620.6 L1333.7 619.5 L1333.8 618.5 L1333.8 617.4 L1333.9 616.3 L1333.9 615.3 L1334.0 614.2 L1334.1 613.1 L1334.1 612.0 L1334.2 611.0 L1334.2 609.9 L1334.3 608.8 L1334.4 607.7 L1334.4 606.7 L1334.5 605.6 L1334.5 604.5 L1334.6 603.4 L1334.7 602.4 L1334.7 601.3 L1334.8 600.2 L1334.8 599.2 L1334.9 598.1 L1335.0 597.0 L1335.0 595.9 L1335.1 594.8 L1335.1 593.8 L1335.2 592.7 L1335.2 591.6 L1335.3 590.5 L1335.4 589.5 L1335.4 588.4 L1335.5 587.3 L1335.5 586.2 L1335.6 585.2 L1335.6 584.1 L1335.7 583.0 L1335.7 581.9 L1335.8 580.8 L1335.8 579.8 L1335.9 578.7 L1336.0 577.6 L1336.0 576.5 L1336.1 575.5 L1336.1 574.4 L1336.2 573.3 L1336.2 572.2 L1336.3 571.1 L1336.3 570.1 L1336.4 569.0 L1336.4 567.9 L1336.5 566.8 L1336.5 565.7 L1336.6 564.7 L1336.6 563.6 L1336.7 562.5 L1336.7 561.4 L1336.8 560.3 L1336.8 559.3 L1336.9 558.2 L1336.9 557.1 L1337.0 556.0 L1337.0 554.9 L1337.1 553.9 L1337.1 552.8 L1337.2 551.7 L1337.2 550.6 L1337.3 549.5 L1337.3 548.5 L1337.4 547.4 L1337.4 546.3 L1337.5 545.2 L1337.5 544.1 L1337.6 543.0 L1337.6 542.0 L1337.6 540.9 L1337.7 539.8 L1337.7 538.7 L1337.8 537.6 L1337.8 536.6 L1337.9 535.5 L1337.9 534.4 L1338.0 533.3 L1338.0 532.2 L1338.0 531.1 L1338.1 530.1 L1338.1 529.0 L1338.2 527.9 L1338.2 526.8 L1338.3 525.7 L1338.3 524.6 L1338.4 523.6 L1338.4 522.5 L1338.4 521.4 L1338.5 520.3 L1338.5 519.2 L1338.6 518.2 L1338.6 517.1 L1338.6 516.0 L1338.7 514.9 L1338.7 513.8 L1338.8 512.7 L1338.8 511.7 L1338.8 510.6 L1338.9 509.5 L1338.9 508.4 L1339.0 507.3 L1339.0 506.2 L1339.0 505.2 L1339.1 504.1 L1339.1 503.0 L1339.2 501.9 L1339.2 500.8 L1339.2 499.8 L1339.3 498.7 L1339.3 497.6 L1339.4 496.5 L1339.4 495.4 L1339.4 494.4 L1339.5 493.3 L1339.5 492.2 L1339.5 491.1 L1339.6 490.0 L1339.6 488.9 L1339.6 487.9 L1339.7 486.8 L1339.7 485.7 L1339.8 484.6 L1339.8 483.6 L1339.8 482.5 L1339.9 481.4 L1339.9 480.3 L1339.9 479.2 L1340.0 478.2 L1340.0 477.1 L1340.0 476.0 L1340.1 474.9 L1340.1 473.9 L1340.1 472.8 L1340.2 471.7 L1340.2 470.6 L1340.2 469.6 L1340.3 468.5 L1340.3 467.4 L1340.3 466.3 L1340.4 465.3 L1340.4 464.2 L1340.4 463.1 L1340.5 462.0 L1340.5 461.0 L1340.5 459.9 L1340.6 458.8 L1340.6 457.8 L1340.6 456.7 L1340.7 455.6 L1340.7 454.5 L1340.7 453.5 L1340.7 452.4 L1340.8 451.3 L1340.8 450.3 L1340.8 449.2 L1340.9 448.1 L1340.9 447.1 L1340.9 446.0 L1341.0 444.9 L1341.0 443.9 L1341.0 442.8 L1341.1 441.7 L1341.1 440.7 L1341.1 439.6 L1341.1 438.6 L1341.2 437.5 L1341.2 436.4 L1341.2 435.4 L1341.3 434.3 L1341.3 433.2 L1341.3 432.2 L1341.3 431.1 L1341.4 430.1 L1341.4 429.0 L1341.4 427.9 L1341.5 426.9 L1341.5 425.8 L1341.5 424.7 L1341.5 423.7 L1341.6 422.6 L1341.6 421.5 L1341.6 420.4 L1341.7 419.4 L1341.7 418.3 L1341.7 417.2 L1341.7 416.1 L1341.8 415.0 L1341.8 413.9 L1341.8 412.8 L1341.8 411.7 L1341.9 410.6 L1341.9 409.5 L1341.9 408.4 L1342.0 407.3 L1342.0 406.2 L1342.0 405.1 L1342.0 404.0 L1342.1 402.8 L1342.1 401.7 L1342.1 400.6 L1342.1 399.4 L1342.2 398.3 L1342.2 397.1 L1342.2 396.0 L1342.2 394.8 L1342.3 393.7 L1342.3 392.5 L1342.3 391.3 L1342.3 390.2 L1342.4 389.0 L1342.4 387.8 L1342.4 386.6 L1342.5 385.4 L1342.5 384.2 L1342.5 383.0 L1342.5 381.8 L1342.6 380.6 L1342.6 379.4 L1342.6 378.2 L1342.6 377.0 L1342.7 375.8 L1342.7 374.6 L1342.7 373.4 L1342.7 372.2 L1342.8 371.0 L1342.8 369.7 L1342.8 368.5 L1342.8 367.3 L1342.9 366.1 L1342.9 364.9 L1342.9 363.6 L1342.9 362.4 L1343.0 361.2 L1343.0 360.0 L1343.0 358.7 L1343.0 357.5 L1343.1 356.3 L1343.1 355.1 L1343.1 353.8 L1343.1 352.6 L1343.2 351.4 L1343.2 350.2 L1343.2 348.9 L1343.2 347.7 L1343.2 346.5 L1343.3 345.3 L1343.3 344.1 L1343.3 342.8 L1343.3 341.6 L1343.4 340.4 L1343.4 339.2 L1343.4 338.0 L1343.4 336.7 L1343.5 335.5 L1343.5 334.3 L1343.5 333.1 L1343.5 331.9 L1343.5 330.7 L1343.6 329.5 L1343.6 328.2 L1343.6 327.0 L1343.6 325.8 L1343.6 324.6 L1343.7 323.4 L1343.7 322.2 L1343.7 321.0 L1343.7 319.8 L1343.7 318.6 L1343.8 317.4 L1343.8 316.1 L1343.8 314.9 L1343.8 313.7 L1343.8 312.5 L1343.9 311.3 L1343.9 310.1 L1343.9 308.9 L1343.9 307.7 L1343.9 306.5 L1344.0 305.3 L1344.0 304.1 L1344.0 302.9 L1344.0 301.7 L1344.0 300.5 L1344.1 299.3 L1344.1 298.1 L1344.1 296.9 L1344.1 295.7 L1344.1 294.5 L1344.2 293.3 L1344.2 292.1 L1344.2 290.9 L1344.2 289.7 L1344.2 288.5 L1344.2 287.3 L1344.3 286.1 L1344.3 284.9 L1344.3 283.7 L1344.3 282.5 L1344.3 281.3 L1344.4 280.1 L1344.4 278.9 L1344.4 277.7 L1344.4 276.5 L1344.4 275.3 L1344.4 274.1 L1344.5 272.9 L1344.5 271.7 L1344.5 270.5 L1344.5 269.3 L1344.5 268.1 L1344.5 266.9 L1344.6 265.7 L1344.6 264.5 L1344.6 263.3 L1344.6 262.1 L1344.6 260.9 L1344.6 259.7 L1344.7 258.5 L1344.7 257.3 L1344.7 256.1 L1344.7 254.9 L1344.7 253.7 L1344.7 252.5 L1344.8 251.3 L1344.8 250.1 L1344.8 248.8 L1344.8 247.6 L1344.8 246.4 L1344.8 245.2 L1344.8 244.0 L1344.9 242.8 L1344.9 241.6 L1344.9 240.4 L1344.9 239.2 L1344.9 238.0 L1344.9 236.8 L1345.0 235.6 L1345.0 234.4 L1345.0 233.2 L1345.0 232.0 L1345.0 230.8 L1345.0 229.6 L1345.0 228.4 L1345.1 227.2 L1345.1 226.0 L1345.1 224.8 L1345.1 223.5 L1345.1 222.3 L1345.1 221.1 L1345.1 219.9 L1345.2 218.7 L1345.2 217.5 L1345.2 216.3 L1345.2 215.1 L1345.2 213.9 L1345.2 212.6 L1345.2 211.4 L1345.3 210.2 L1345.3 209.0 L1345.3 207.8 L1345.3 206.6 L1345.3 205.3 L1345.3 204.1 L1345.3 202.9 L1345.4 201.7 L1345.4 200.5 L1345.4 199.2 L1345.4 198.0 L1345.4 196.8 L1345.4 195.6 L1345.4 194.4 L1345.5 193.1 L1345.5 191.9 L1345.5 190.7 L1345.5 189.5 L1345.5 188.2 L1345.5 187.0 L1345.5 185.8 L1345.5 184.6 L1345.6 183.3 L1345.6 182.1 L1345.6 180.9 L1345.6 179.7 L1345.6 178.5 L1345.6 177.2 L1345.6 176.0 L1345.7 174.8 L1345.7 173.6 L1345.7 172.4 L1345.7 171.2 L1345.7 170.0 L1345.7 168.8 L1345.7 167.6 L1345.7 166.4 L1345.8 165.2 L1345.8 164.0 L1345.8 162.8 L1345.8 161.6 L1345.8 160.4 L1345.8 159.2 L1345.8 158.0 L1345.8 156.9 L1345.8 155.7 L1345.9 154.5 L1345.9 153.4 L1345.9 152.2 L1345.9 151.0 L1345.9 149.9 L1345.9 148.7 L1345.9 147.6 L1345.9 146.4 L1346.0 145.3 L1346.0 144.2 L1346.0 143.0 L1346.0 141.9 L1346.0 140.8 L1346.0 139.7 L1346.0 138.6 L1346.0 137.4 L1346.0 136.3 L1346.1 135.2 L1346.1 134.1 L1346.1 133.0 L1346.1 131.9 L1346.1 130.9 L1346.1 129.8 L1346.1 128.7 L1346.1 127.6 L1346.1 126.5 L1346.1 125.5 L1346.2 124.4 L1346.2 123.4 L1346.2 122.3 L1346.2 121.2 L1346.2 120.2 L1346.2 119.2 L1346.2 118.1 L1346.2 117.1 L1346.2 116.0 L1346.3 115.0 L1346.3 114.0 L1346.3 113.0 L1346.3 111.9 L1346.3 110.9 L1346.3 109.9 L1346.3 108.9 L1346.3 107.9 L1346.3 106.9 L1346.3 105.9 L1346.4 104.9 L1346.4 103.9 L1346.4 102.9 L1346.4 102.0 L1346.4 101.0 L1346.4 100.0 L1346.4 99.1 L1346.4 98.1 L1346.4 97.1 L1346.4 96.2 L1346.5 95.2 L1346.5 94.3 L1346.5 93.4 L1346.5 92.4 L1346.5 91.5 L1346.5 90.6 L1346.5 89.7 L1346.5 88.8 L1346.5 87.9 L1346.5 87.0 L1346.6 86.1 L1346.6 85.2 L1346.6 84.4 L1346.6 83.5 L1346.6 82.6 L1346.6 81.8 L1346.6 81.0 L1346.6 80.1 L1346.6 79.3 L1346.6 78.5 L1346.6 77.7 L1346.7 76.8 L1346.7 76.0 L1346.7 75.3 L1346.7 74.5 L1346.7 73.7 L1346.7 72.9 L1346.7 72.2 L1346.7 71.4 L1346.7 70.7 L1346.7 70.0 L1346.7 69.2 L1346.8 68.5 L1346.8 67.8 L1346.8 67.1 L1346.8 66.4 L1346.8 65.8 L1346.8 65.1 L1346.8 64.4 L1346.8 63.8 L1346.8 63.2 L1346.8 62.5 L1346.8 61.9 L1346.8 61.3 L1346.9 60.7 L1346.9 60.1 L1346.9 59.5 L1346.9 59.0 L1346.9 58.4 L1346.9 57.9 L1346.9 57.3 L1346.9 56.8 L1346.9 56.3 L1346.9 55.7 L1346.9 55.2 L1347.0 54.7 L1347.0 54.2 L1347.0 53.7 L1347.0 53.2 L1347.0 52.7 L1347.0 52.3 L1347.0 51.8 L1347.0 51.3 L1347.0 50.8 L1347.1 50.4 L1347.1 49.9 L1347.1 49.5 L1347.1 49.0 L1347.1 48.6 L1347.1 48.1 L1347.2 47.7 L1347.2 47.2 L1347.2 46.8 L1347.2 46.3 L1347.3 45.9 L1347.3 45.4 L1347.3 45.0 L1347.3 45.4 L1347.3 45.8 L1347.4 46.2 L1347.4 46.6 L1347.4 47.1 L1347.4 47.5 L1347.4 47.9 L1347.5 48.3 L1347.5 48.7 L1347.5 49.1 L1347.5 49.6 L1347.5 50.0 L1347.5 50.4 L1347.5 50.9 L1347.6 51.3 L1347.6 51.7 L1347.6 52.2 L1347.6 52.6 L1347.6 53.1 L1347.6 53.6 L1347.6 54.0 L1347.6 54.5 L1347.7 55.0 L1347.7 55.5 L1347.7 55.9 L1347.7 56.4 L1347.7 56.9 L1347.7 57.5 L1347.7 58.0 L1347.7 58.5 L1347.7 59.0 L1347.7 59.6 L1347.7 60.1 L1347.7 60.7 L1347.8 61.2 L1347.8 61.8 L1347.8 62.4 L1347.8 63.0 L1347.8 63.6 L1347.8 64.2 L1347.8 64.8 L1347.8 65.4 L1347.8 66.0 L1347.8 66.7 L1347.8 67.3 L1347.8 68.0 L1347.8 68.6 L1347.9 69.3 L1347.9 70.0 L1347.9 70.7 L1347.9 71.4 L1347.9 72.1 L1347.9 72.8 L1347.9 73.5 L1347.9 74.2 L1347.9 74.9 L1347.9 75.7 L1347.9 76.4 L1347.9 77.2 L1348.0 77.9 L1348.0 78.7 L1348.0 79.4 L1348.0 80.2 L1348.0 81.0 L1348.0 81.8 L1348.0 82.6 L1348.0 83.4 L1348.0 84.2 L1348.0 85.0 L1348.0 85.8 L1348.1 86.7 L1348.1 87.5 L1348.1 88.3 L1348.1 89.2 L1348.1 90.0 L1348.1 90.9 L1348.1 91.7 L1348.1 92.6 L1348.1 93.5 L1348.1 94.3 L1348.1 95.2 L1348.2 96.1 L1348.2 97.0 L1348.2 97.9 L1348.2 98.8 L1348.2 99.7 L1348.2 100.6 L1348.2 101.5 L1348.2 102.4 L1348.2 103.3 L1348.2 104.3 L1348.2 105.2 L1348.3 106.1 L1348.3 107.1 L1348.3 108.0 L1348.3 108.9 L1348.3 109.9 L1348.3 110.8 L1348.3 111.8 L1348.3 112.7 L1348.3 113.7 L1348.3 114.7 L1348.4 115.6 L1348.4 116.6 L1348.4 117.6 L1348.4 118.5 L1348.4 119.5 L1348.4 120.5 L1348.4 121.5 L1348.4 122.5 L1348.4 123.5 L1348.4 124.5 L1348.5 125.5 L1348.5 126.5 L1348.5 127.5 L1348.5 128.5 L1348.5 129.5 L1348.5 130.5 L1348.5 131.6 L1348.5 132.6 L1348.5 133.6 L1348.5 134.6 L1348.6 135.7 L1348.6 136.7 L1348.6 137.8 L1348.6 138.8 L1348.6 139.9 L1348.6 140.9 L1348.6 142.0 L1348.6 143.0 L1348.6 144.1 L1348.6 145.2 L1348.7 146.2 L1348.7 147.3 L1348.7 148.4 L1348.7 149.4 L1348.7 150.5 L1348.7 151.6 L1348.7 152.7 L1348.7 153.8 L1348.7 154.9 L1348.8 156.0 L1348.8 157.1 L1348.8 158.2 L1348.8 159.3 L1348.8 160.4 L1348.8 161.5 L1348.8 162.6 L1348.8 163.7 L1348.8 164.9 L1348.9 166.0 L1348.9 167.1 L1348.9 168.2 L1348.9 169.4 L1348.9 170.5 L1348.9 171.6 L1348.9 172.8 L1348.9 173.9 L1349.0 175.0 L1349.0 176.2 L1349.0 177.3 L1349.0 178.4 L1349.0 179.6 L1349.0 180.7 L1349.0 181.9 L1349.0 183.0 L1349.0 184.1 L1349.1 185.3 L1349.1 186.4 L1349.1 187.6 L1349.1 188.7 L1349.1 189.9 L1349.1 191.0 L1349.1 192.2 L1349.1 193.3 L1349.2 194.5 L1349.2 195.6 L1349.2 196.7 L1349.2 197.9 L1349.2 199.0 L1349.2 200.2 L1349.2 201.3 L1349.3 202.5 L1349.3 203.6 L1349.3 204.8 L1349.3 205.9 L1349.3 207.0 L1349.3 208.2 L1349.3 209.3 L1349.3 210.5 L1349.4 211.6 L1349.4 212.7 L1349.4 213.9 L1349.4 215.0 L1349.4 216.2 L1349.4 217.3 L1349.4 218.4 L1349.5 219.6 L1349.5 220.7 L1349.5 221.9 L1349.5 223.0 L1349.5 224.1 L1349.5 225.3 L1349.5 226.4 L1349.5 227.5 L1349.6 228.7 L1349.6 229.8 L1349.6 230.9 L1349.6 232.1 L1349.6 233.2 L1349.6 234.3 L1349.6 235.5 L1349.7 236.6 L1349.7 237.7 L1349.7 238.9 L1349.7 240.0 L1349.7 241.1 L1349.7 242.3 L1349.7 243.4 L1349.8 244.5 L1349.8 245.6 L1349.8 246.8 L1349.8 247.9 L1349.8 249.0 L1349.8 250.2 L1349.8 251.3 L1349.9 252.4 L1349.9 253.6 L1349.9 254.7 L1349.9 255.8 L1349.9 256.9 L1349.9 258.1 L1350.0 259.2 L1350.0 260.3 L1350.0 261.4 L1350.0 262.6 L1350.0 263.7 L1350.0 264.8 L1350.0 266.0 L1350.1 267.1 L1350.1 268.2 L1350.1 269.3 L1350.1 270.5 L1350.1 271.6 L1350.1 272.7 L1350.2 273.8 L1350.2 275.0 L1350.2 276.1 L1350.2 277.2 L1350.2 278.4 L1350.2 279.5 L1350.3 280.6 L1350.3 281.7 L1350.3 282.9 L1350.3 284.0 L1350.3 285.1 L1350.3 286.2 L1350.4 287.4 L1350.4 288.5 L1350.4 289.6 L1350.4 290.7 L1350.4 291.9 L1350.4 293.0 L1350.5 294.1 L1350.5 295.2 L1350.5 296.4 L1350.5 297.5 L1350.5 298.6 L1350.5 299.7 L1350.6 300.9 L1350.6 302.0 L1350.6 303.1 L1350.6 304.3 L1350.6 305.4 L1350.7 306.5 L1350.7 307.6 L1350.7 308.8 L1350.7 309.9 L1350.7 311.0 L1350.7 312.2 L1350.8 313.3 L1350.8 314.4 L1350.8 315.5 L1350.8 316.7 L1350.8 317.8 L1350.9 318.9 L1350.9 320.1 L1350.9 321.2 L1350.9 322.3 L1350.9 323.5 L1351.0 324.6 L1351.0 325.7 L1351.0 326.9 L1351.0 328.0 L1351.0 329.1 L1351.1 330.3 L1351.1 331.4 L1351.1 332.5 L1351.1 333.7 L1351.1 334.8 L1351.2 335.9 L1351.2 337.1 L1351.2 338.2 L1351.2 339.4 L1351.2 340.5 L1351.3 341.7 L1351.3 342.8 L1351.3 343.9 L1351.3 345.1 L1351.3 346.2 L1351.4 347.4 L1351.4 348.5 L1351.4 349.7 L1351.4 350.8 L1351.5 352.0 L1351.5 353.1 L1351.5 354.3 L1351.5 355.4 L1351.5 356.6 L1351.6 357.7 L1351.6 358.9 L1351.6 360.0 L1351.6 361.2 L1351.7 362.3 L1351.7 363.5 L1351.7 364.6 L1351.7 365.8 L1351.8 366.9 L1351.8 368.1 L1351.8 369.2 L1351.8 370.4 L1351.9 371.5 L1351.9 372.7 L1351.9 373.8 L1351.9 375.0 L1351.9 376.1 L1352.0 377.2 L1352.0 378.4 L1352.0 379.5 L1352.0 380.6 L1352.1 381.8 L1352.1 382.9 L1352.1 384.0 L1352.1 385.1 L1352.2 386.2 L1352.2 387.4 L1352.2 388.5 L1352.2 389.6 L1352.3 390.7 L1352.3 391.8 L1352.3 392.9 L1352.3 394.0 L1352.4 395.1 L1352.4 396.2 L1352.4 397.2 L1352.4 398.3 L1352.5 399.4 L1352.5 400.5 L1352.5 401.5 L1352.5 402.6 L1352.6 403.6 L1352.6 404.7 L1352.6 405.7 L1352.6 406.8 L1352.7 407.8 L1352.7 408.9 L1352.7 409.9 L1352.7 410.9 L1352.8 411.9 L1352.8 413.0 L1352.8 414.0 L1352.8 415.0 L1352.9 416.0 L1352.9 417.0 L1352.9 418.0 L1352.9 419.1 L1353.0 420.1 L1353.0 421.1 L1353.0 422.1 L1353.0 423.1 L1353.1 424.1 L1353.1 425.1 L1353.1 426.1 L1353.1 427.1 L1353.2 428.1 L1353.2 429.1 L1353.2 430.0 L1353.2 431.0 L1353.3 432.0 L1353.3 433.0 L1353.3 434.0 L1353.4 435.0 L1353.4 436.0 L1353.4 437.0 L1353.4 438.0 L1353.5 439.0 L1353.5 440.0 L1353.5 441.0 L1353.5 442.0 L1353.6 443.0 L1353.6 444.0 L1353.6 445.0 L1353.7 446.0 L1353.7 447.0 L1353.7 448.0 L1353.7 449.0 L1353.8 450.0 L1353.8 451.0 L1353.8 452.0 L1353.9 453.0 L1353.9 454.0 L1353.9 455.0 L1354.0 456.1 L1354.0 457.1 L1354.0 458.1 L1354.0 459.1 L1354.1 460.1 L1354.1 461.1 L1354.1 462.1 L1354.2 463.1 L1354.2 464.1 L1354.2 465.2 L1354.3 466.2 L1354.3 467.2 L1354.3 468.2 L1354.4 469.2 L1354.4 470.2 L1354.4 471.2 L1354.4 472.3 L1354.5 473.3 L1354.5 474.3 L1354.5 475.3 L1354.6 476.3 L1354.6 477.3 L1354.6 478.3 L1354.7 479.4 L1354.7 480.4 L1354.7 481.4 L1354.8 482.4 L1354.8 483.4 L1354.8 484.4 L1354.9 485.4 L1354.9 486.5 L1354.9 487.5 L1355.0 488.5 L1355.0 489.5 L1355.0 490.5 L1355.1 491.5 L1355.1 492.5 L1355.2 493.6 L1355.2 494.6 L1355.2 495.6 L1355.3 496.6 L1355.3 497.6 L1355.3 498.6 L1355.4 499.6 L1355.4 500.6 L1355.4 501.7 L1355.5 502.7 L1355.5 503.7 L1355.5 504.7 L1355.6 505.7 L1355.6 506.7 L1355.7 507.7 L1355.7 508.8 L1355.7 509.8 L1355.8 510.8 L1355.8 511.8 L1355.8 512.8 L1355.9 513.8 L1355.9 514.8 L1356.0 515.8 L1356.0 516.9 L1356.0 517.9 L1356.1 518.9 L1356.1 519.9 L1356.2 520.9 L1356.2 521.9 L1356.2 522.9 L1356.3 523.9 L1356.3 525.0 L1356.3 526.0 L1356.4 527.0 L1356.4 528.0 L1356.5 529.0 L1356.5 530.0 L1356.6 531.0 L1356.6 532.0 L1356.6 533.0 L1356.7 534.1 L1356.7 535.1 L1356.8 536.1 L1356.8 537.1 L1356.8 538.1 L1356.9 539.1 L1356.9 540.1 L1357.0 541.1 L1357.0 542.1 L1357.1 543.2 L1357.1 544.2 L1357.1 545.2 L1357.2 546.2 L1357.2 547.2 L1357.3 548.2 L1357.3 549.2 L1357.4 550.2 L1357.4 551.3 L1357.4 552.3 L1357.5 553.3 L1357.5 554.3 L1357.6 555.3 L1357.6 556.3 L1357.7 557.3 L1357.7 558.3 L1357.8 559.3 L1357.8 560.4 L1357.9 561.4 L1357.9 562.4 L1358.0 563.4 L1358.0 564.4 L1358.0 565.4 L1358.1 566.4 L1358.1 567.4 L1358.2 568.4 L1358.2 569.4 L1358.3 570.5 L1358.3 571.5 L1358.4 572.5 L1358.4 573.5 L1358.5 574.5 L1358.5 575.5 L1358.6 576.5 L1358.6 577.5 L1358.7 578.5 L1358.7 579.6 L1358.8 580.6 L1358.8 581.6 L1358.9 582.6 L1358.9 583.6 L1359.0 584.6 L1359.0 585.6 L1359.1 586.6 L1359.1 587.6 L1359.2 588.7 L1359.2 589.7 L1359.3 590.7 L1359.4 591.7 L1359.4 592.7 L1359.5 593.7 L1359.5 594.7 L1359.6 595.7 L1359.6 596.7 L1359.7 597.8 L1359.7 598.8 L1359.8 599.8 L1359.8 600.8 L1359.9 601.8 L1359.9 602.8 L1360.0 603.8 L1360.1 604.8 L1360.1 605.8 L1360.2 606.9 L1360.2 607.9 L1360.3 608.9 L1360.3 609.9 L1360.4 610.9 L1360.5 611.9 L1360.5 612.9 L1360.6 613.9 L1360.6 614.9 L1360.7 616.0 L1360.8 617.0 L1360.8 618.0 L1360.9 619.0 L1360.9 620.0 L1361.0 621.0 L1361.1 622.0 L1361.1 623.0 L1361.2 624.0 L1361.2 625.1 L1361.3 626.1 L1361.4 627.1 L1361.4 628.1 L1361.5 629.1 L1361.5 630.1 L1361.6 631.1 L1361.7 632.1 L1361.7 633.1 L1361.8 634.2 L1361.9 635.2 L1361.9 636.2 L1362.0 637.2 L1362.0 638.2 L1362.1 639.2 L1362.2 640.2 L1362.2 641.2 L1362.3 642.3 L1362.4 643.3 L1362.4 644.3 L1362.5 645.3 L1362.6 646.3 L1362.6 647.3 L1362.7 648.3 L1362.8 649.3 L1362.8 650.4 L1362.9 651.4 L1363.0 652.4 L1363.1 653.4 L1363.1 654.4 L1363.2 655.4 L1363.3 656.4 L1363.3 657.4 L1363.4 658.4 L1363.5 659.5 L1363.5 660.5 L1363.6 661.5 L1363.7 662.5 L1363.8 663.5 L1363.8 664.5 L1363.9 665.5 L1364.0 666.5 L1364.0 667.5 L1364.1 668.5 L1364.2 669.6 L1364.3 670.6 L1364.3 671.6 L1364.4 672.6 L1364.5 673.6 L1364.6 674.6 L1364.6 675.6 L1364.7 676.6 L1364.8 677.6 L1364.9 678.6 L1364.9 679.6 L1365.0 680.6 L1365.1 681.6 L1365.2 682.6 L1365.3 683.6 L1365.3 684.6 L1365.4 685.7 L1365.5 686.7 L1365.6 687.7 L1365.6 688.7 L1365.7 689.7 L1365.8 690.7 L1365.9 691.7 L1366.0 692.7 L1366.0 693.7 L1366.1 694.7 L1366.2 695.7 L1366.3 696.7 L1366.4 697.7 L1366.5 698.7 L1366.5 699.7 L1366.6 700.7 L1366.7 701.7 L1366.8 702.8 L1366.9 703.8 L1367.0 704.8 L1367.1 705.8 L1367.1 706.8 L1367.2 707.8 L1367.3 708.8 L1367.4 709.9 L1367.5 710.9 L1367.6 711.9 L1367.7 712.9 L1367.8 713.9 L1367.9 715.0 L1367.9 716.0 L1368.0 717.0 L1368.1 718.1 L1368.2 719.1 L1368.3 720.1 L1368.4 721.2 L1368.5 722.2 L1368.6 723.2 L1368.7 724.3 L1368.8 725.3 L1368.9 726.4 L1369.0 727.4 L1369.1 728.5 L1369.2 729.5 L1369.3 730.5 L1369.4 731.6 L1369.5 732.6 L1369.6 733.7 L1369.7 734.7 L1369.8 735.7 L1369.9 736.8 L1370.0 737.8 L1370.1 738.8 L1370.2 739.9 L1370.3 740.9 L1370.4 741.9 L1370.5 742.9 L1370.6 743.9 L1370.7 744.9 L1370.8 745.9 L1370.9 746.9 L1371.0 747.9 L1371.1 748.9 L1371.2 749.9 L1371.3 750.9 L1371.4 751.9 L1371.5 752.8 L1371.6 753.8 L1371.7 754.8 L1371.8 755.7 L1371.9 756.6 L1372.0 757.6 L1372.1 758.5 L1372.2 759.4 L1372.3 760.3 L1372.4 761.2 L1372.5 762.1 L1372.6 763.0 L1372.7 763.9 L1372.8 764.7 L1372.9 765.6 L1373.0 766.5 L1373.2 767.3 L1373.3 768.2 L1373.4 769.0 L1373.5 769.8 L1373.6 770.6 L1373.7 771.5 L1373.8 772.3 L1373.9 773.1 L1374.0 773.9 L1374.1 774.7 L1374.2 775.5 L1374.3 776.2 L1374.4 777.0 L1374.5 777.8 L1374.6 778.6 L1374.7 779.3 L1374.8 780.1 L1374.9 780.9 L1375.1 781.6 L1375.2 782.4 L1375.3 783.1 L1375.4 783.9 L1375.5 784.6 L1375.6 785.3 L1375.7 786.1 L1375.8 786.8 L1375.9 787.6 L1376.0 788.3 L1376.1 789.0 L1376.2 789.8 L1376.3 790.5 L1376.4 791.2 L1376.5 791.9 L1376.6 792.7 L1376.7 793.4 L1376.8 794.1 L1376.9 794.8 L1377.0 795.6 L1377.1 796.3 L1377.3 797.0 L1377.4 797.7 L1377.5 798.5 L1377.6 799.2 L1377.7 799.9 L1377.8 800.6 L1377.9 801.4 L1378.0 802.1 L1378.1 802.8 L1378.2 803.6 L1378.3 804.3 L1378.4 805.0 L1378.5 805.8 L1378.6 806.5 L1378.8 807.3 L1378.9 808.0 L1379.0 808.8 L1379.1 809.5 L1379.2 810.3 L1379.3 811.0 L1379.4 811.8 L1379.5 812.5 L1379.7 813.3 L1379.8 814.1 L1379.9 814.8 L1380.0 815.6 L1380.1 816.3 L1380.2 817.1 L1380.4 817.9 L1380.5 818.7 L1380.6 819.4 L1380.7 820.2 L1380.8 821.0 L1381.0 821.8 L1381.1 822.5 L1381.2 823.3 L1381.4 824.1 L1381.5 824.9 L1381.6 825.7 L1381.8 826.4 L1381.9 827.2 L1382.0 828.0 L1382.2 828.8 L1382.3 829.6 L1382.4 830.4 L1382.6 831.2 L1382.7 832.0 L1382.9 832.7 L1383.0 833.5 L1383.2 834.3 L1383.3 835.1 L1383.5 835.9 L1383.6 836.7 L1383.8 837.5 L1384.0 838.3 L1384.1 839.1 L1384.3 839.9 L1384.4 840.7 L1384.6 841.5 L1384.8 842.3 L1384.9 843.1 L1385.1 843.9 L1385.3 844.7 L1385.4 845.5 L1385.6 846.3 L1385.8 847.1 L1385.9 847.9 L1386.1 848.7 L1386.3 849.5 L1386.5 850.3 L1386.6 851.1 L1386.8 851.9 L1387.0 852.7 L1387.1 853.6 L1387.3 854.4 L1387.5 855.2 L1387.7 856.0 L1387.9 856.8 L1388.0 857.7 L1388.2 858.5 L1388.4 859.3 L1388.6 860.1 L1388.7 861.0 L1388.9 861.8 L1389.1 862.6 L1389.3 863.5 L1389.5 864.3 L1389.6 865.1 L1389.8 866.0 L1390.0 866.8 L1390.2 867.7 L1390.3 868.5 L1390.5 869.4 L1390.7 870.2 L1390.9 871.1 L1391.1 871.9 L1391.2 872.8 L1391.4 873.6 L1391.6 874.5 L1391.8 875.4 L1391.9 876.2 L1392.1 877.1 L1392.3 878.0 L1392.5 878.9 L1392.6 879.7 L1392.8 880.6 L1393.0 881.5 L1393.1 882.4 L1393.3 883.3 L1393.5 884.2 L1393.6 885.0 L1393.8 885.9 L1394.0 886.8 L1394.1 887.7 L1394.3 888.6 L1394.4 889.5 L1394.6 890.5 L1394.8 891.4 L1394.9 892.3 L1395.1 893.2 L1395.2 894.1 L1395.4 895.0 L1395.6 896.0 L1395.7 896.9 L1395.9 897.8 L1396.0 898.7 L1396.2 899.7 L1396.4 900.6 L1396.5 901.5 L1396.7 902.5 L1396.8 903.4 L1397.0 904.4 L1397.1 905.3 L1397.3 906.3 L1397.5 907.2 L1397.6 908.2 L1397.8 909.1 L1397.9 910.1 L1398.1 911.0 L1398.2 912.0 L1398.4 912.9 L1398.6 913.9 L1398.7 914.9 L1398.9 915.8 L1399.0 916.8 L1399.2 917.8 L1399.4 918.8 L1399.5 919.7 L1399.7 920.7 L1399.9 921.7 L1400.0 922.7 L1400.2 923.7 L1400.4 924.7 L1400.5 925.6 L1400.7 926.6 L1400.9 927.6 L1401.1 928.6 L1401.2 929.6 L1401.4 930.6 L1401.6 931.6 L1401.8 932.6 L1402.0 933.6 L1402.1 934.6 L1402.3 935.6 L1402.5 936.6 L1402.7 937.6 L1402.9 938.6 L1403.1 939.6 L1403.3 940.7 L1403.5 941.7 L1403.7 942.7 L1403.9 943.7 L1404.1 944.7 L1404.3 945.7 L1404.5 946.8 L1404.7 947.8 L1404.9 948.8 L1405.1 949.8 L1405.3 950.9 L1405.5 951.9 L1405.8 952.9 L1406.0 954.0 L1406.2 955.0 L1406.4 956.0 L1406.7 957.0 L1406.9 958.1 L1407.1 959.1 L1407.4 960.2 L1407.6 961.2 L1407.9 962.2 L1408.1 963.3 L1408.4 964.3 L1408.6 965.4 L1408.9 966.4 L1409.1 967.4 L1409.4 968.5 L1409.7 969.5 L1409.9 970.6 L1410.2 971.6 L1410.5 972.6 L1410.8 973.7 L1411.0 974.7 L1411.3 975.8 L1411.6 976.8 L1411.9 977.8 L1412.2 978.9 L1412.5 979.9 L1412.9 980.9 L1413.2 982.0 L1413.5 983.0 L1413.8 984.0 L1414.2 985.0 L1414.5 986.0 L1414.8 987.1 L1415.2 988.1 L1415.5 989.1 L1415.9 990.1 L1416.3 991.1 L1416.6 992.1 L1417.0 993.1 L1417.4 994.1 L1417.8 995.1 L1418.2 996.0 L1418.6 997.0 L1419.0 998.0 L1419.4 999.0 L1419.8 999.9 L1420.2 1000.9 L1420.6 1001.8 L1421.1 1002.8 L1421.5 1003.7 L1422.0 1004.7 L1422.4 1005.6 L1422.9 1006.5 L1423.4 1007.4 L1423.8 1008.4 L1424.3 1009.3 L1424.8 1010.2 L1425.3 1011.1 L1425.8 1011.9 L1426.3 1012.8 L1426.9 1013.7 L1427.4 1014.6 L1427.9 1015.4 L1428.5 1016.3 L1429.0 1017.1 L1429.6 1018.0 L1430.2 1018.8 L1430.7 1019.6 L1431.3 1020.4 L1431.9 1021.2 L1432.5 1022.0 L1433.2 1022.8 L1433.8 1023.6 L1434.4 1024.3 L1435.0 1025.1 L1435.7 1025.8 L1436.4 1026.6 L1437.0 1027.3 L1437.7 1028.0 L1438.4 1028.7 L1439.1 1029.4 L1439.8 1030.1 L1440.5 1030.8 L1441.2 1031.4 L1442.0 1032.1 L1442.7 1032.7 L1443.5 1033.4 L1444.2 1034.0 L1445.0 1034.6 L1445.8 1035.2 L1446.6 1035.8 L1447.4 1036.4 L1448.2 1036.9 L1449.0 1037.5 L1449.9 1038.0 L1450.7 1038.6 L1451.6 1039.1 L1452.4 1039.6 L1453.3 1040.1 L1454.2 1040.6 L1455.1 1041.1 L1456.0 1041.5 L1456.9 1042.0 L1457.8 1042.4 L1458.8 1042.9 L1459.7 1043.3 L1460.6 1043.7 L1461.6 1044.1 L1462.5 1044.5 L1463.5 1044.9 L1464.5 1045.3 L1465.5 1045.7 L1466.5 1046.1 L1467.5 1046.4 L1468.5 1046.8 L1469.5 1047.1 L1470.5 1047.4 L1471.6 1047.8 L1472.6 1048.1 L1473.6 1048.4 L1474.7 1048.7 L1475.8 1049.0 L1476.8 1049.3 L1477.9 1049.5 L1479.0 1049.8 L1480.1 1050.1 L1481.2 1050.3 L1482.3 1050.6 L1483.4 1050.8 L1484.5 1051.0 L1485.6 1051.3 L1486.7 1051.5 L1487.8 1051.7 L1489.0 1051.9 L1490.1 1052.1 L1491.3 1052.3 L1492.4 1052.5 L1493.6 1052.7 L1494.7 1052.8 L1495.9 1053.0 L1497.1 1053.2 L1498.3 1053.3 L1499.5 1053.5 L1500.6 1053.6 L1501.8 1053.8 L1503.0 1053.9 L1504.2 1054.0 L1505.4 1054.2 L1506.7 1054.3 L1507.9 1054.4 L1509.1 1054.5 L1510.3 1054.6 L1511.5 1054.7 L1512.8 1054.8 L1514.0 1054.9 L1515.2 1055.0 L1516.5 1055.1 L1517.7 1055.2 L1519.0 1055.3 L1520.2 1055.3 L1521.5 1055.4 L1522.7 1055.5 L1524.0 1055.5 L1525.3 1055.6 L1526.5 1055.7 L1527.8 1055.7 L1529.1 1055.8 L1530.3 1055.8 L1531.6 1055.9 L1532.9 1055.9 L1534.2 1056.0 L1535.5 1056.0 L1536.7 1056.0 L1538.0 1056.1 L1539.3 1056.1 L1540.6 1056.2 L1541.9 1056.2 L1543.2 1056.2 L1544.5 1056.2 L1545.8 1056.3 L1547.1 1056.3 L1548.4 1056.3 L1549.7 1056.3 L1551.0 1056.4 L1552.3 1056.4 L1553.6 1056.4 L1554.9 1056.4 L1556.2 1056.5 L1557.5 1056.5 L1558.8 1056.5 L1560.1 1056.5 L1561.4 1056.5 L1562.7 1056.6 L1564.0 1056.6 L1565.3 1056.6 L1566.6 1056.6 L1567.9 1056.6 L1569.2 1056.7 L1570.5 1056.7 L1571.7 1056.7 L1573.0 1056.7 L1574.3 1056.8 L1575.6 1056.8 L1576.9 1056.8 L1578.2 1056.9 L1579.5 1056.9 L1580.8 1056.9 L1582.1 1057.0 L1583.4 1057.0 L1584.6 1057.0 L1585.9 1057.1 L1587.2 1057.1 L1588.5 1057.2 L1589.8 1057.2 L1591.0 1057.3 L1592.3 1057.3 L1593.6 1057.4 L1594.8 1057.4 L1596.1 1057.5 L1597.4 1057.6 L1598.6 1057.6 L1599.9 1057.7 L1601.1 1057.8 L1602.4 1057.9 L1603.6 1057.9" stroke="#d95319" stroke-width="8" fill="none" stroke-linejoin="round"/>
<g font-family="&quot;Liberation Sans&quot;, sans-serif" font-size="70.6" fill="#262626">
<text transform="translate(221.5 73.7) scale(1 1.05)" text-anchor="end">0</text>
<text transform="translate(221.5 340.8) scale(1 1.05)" text-anchor="end">-10</text>
<text transform="translate(221.5 607.8) scale(1 1.05)" text-anchor="end">-20</text>
<text transform="translate(221.5 874.8) scale(1 1.05)" text-anchor="end">-30</text>
<text transform="translate(221.5 1142.2) scale(1 1.05)" text-anchor="end">-40</text>
<text transform="translate(244.5 1208.7) scale(1 1.05)" text-anchor="middle">-100</text>
<text transform="translate(602.5 1208.7) scale(1 1.05)" text-anchor="middle">-50</text>
<text transform="translate(959.5 1208.7) scale(1 1.05)" text-anchor="middle">0</text>
<text transform="translate(1317.5 1208.7) scale(1 1.05)" text-anchor="middle">50</text>
<text transform="translate(1674.5 1208.7) scale(1 1.05)" text-anchor="middle">100</text>
</g>
<text transform="translate(959.5 1305.9) scale(1 1.025)" text-anchor="middle" font-family="&quot;Liberation Sans&quot;, sans-serif" font-size="77.7" fill="#262626">Angle of Arrival [deg]</text>
<text transform="translate(86.6 579) rotate(-90) scale(1 1.025)" text-anchor="middle" font-family="&quot;Liberation Sans&quot;, sans-serif" font-size="77.3" fill="#262626">Normalized Power [dB]</text>
<rect x="1005.5" y="890.5" width="624.5" height="179" fill="#ffffff" stroke="#262626" stroke-width="3"/>
<path d="M1017.8 938.2 H1151" stroke="#0072bd" stroke-width="8.8"/>
<path d="M1017.8 1021.4 H1151" stroke="#d95319" stroke-width="8.8"/>
<g font-family="&quot;Liberation Sans&quot;, sans-serif" font-size="63.3" fill="#000000">
<text transform="translate(1159 962.7) scale(1 1.05)">SNR = 0 dB</text>
<text transform="translate(1159 1047.3) scale(1 1.05)">SNR = 37.63 dB</text>
</g>
</svg>
</body></html>
